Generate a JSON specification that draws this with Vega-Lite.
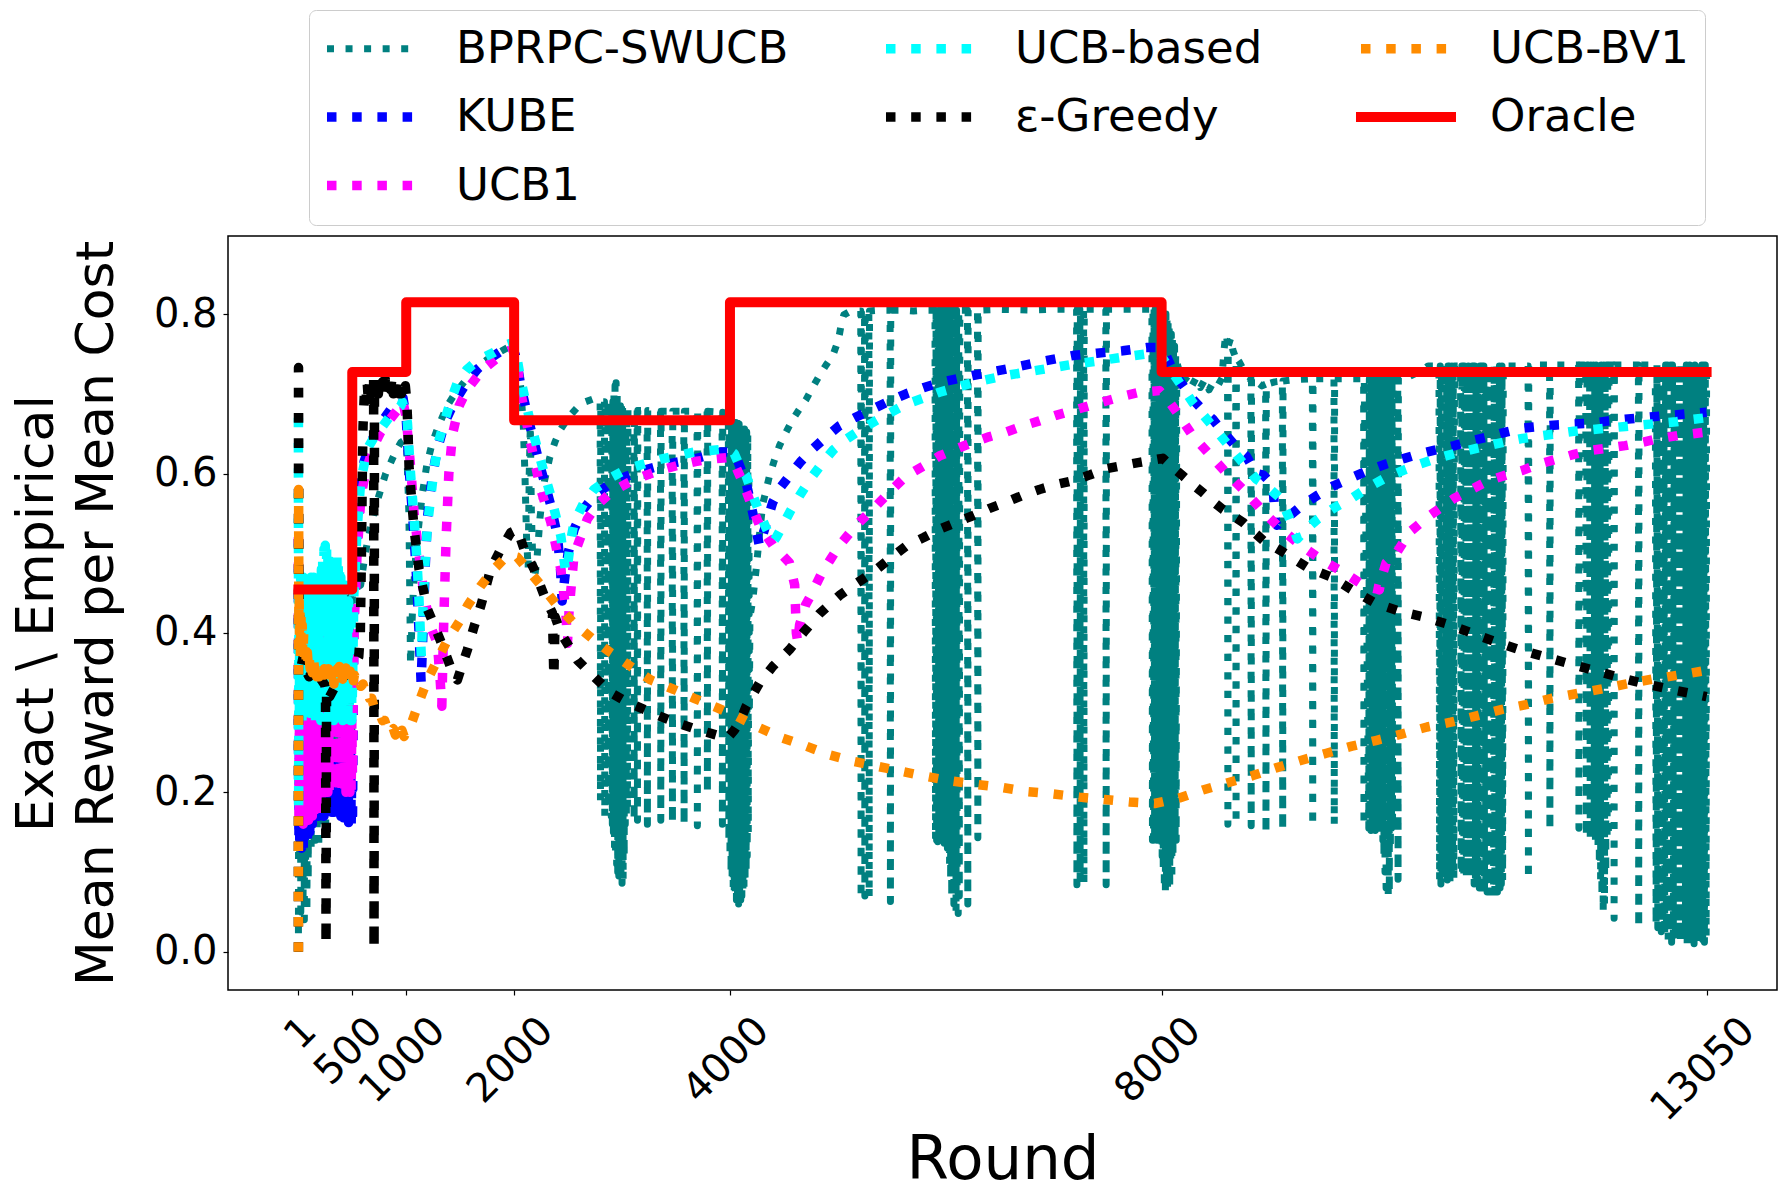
{
  "$schema": "https://vega.github.io/schema/vega-lite/v6.json",
  "width": 1549,
  "height": 754,
  "autosize": {"type": "none"},
  "padding": {"left": 228, "top": 236, "right": 14, "bottom": 210},
  "background": "white",
  "datasets": {
    "bprpc": [
      {"algo":"BPRPC-SWUCB","round":1,"value":0.0},{"algo":"BPRPC-SWUCB","round":4,"value":0.3},{"algo":"BPRPC-SWUCB","round":8,"value":0.46},{"algo":"BPRPC-SWUCB","round":13,"value":0.12},{"algo":"BPRPC-SWUCB","round":18,"value":0.465},{"algo":"BPRPC-SWUCB","round":23,"value":0.05},{"algo":"BPRPC-SWUCB","round":28,"value":0.46},{"algo":"BPRPC-SWUCB","round":33,"value":0.2},{"algo":"BPRPC-SWUCB","round":38,"value":0.465},{"algo":"BPRPC-SWUCB","round":44,"value":0.06},{"algo":"BPRPC-SWUCB","round":50,"value":0.463},{"algo":"BPRPC-SWUCB","round":56,"value":0.04},{"algo":"BPRPC-SWUCB","round":62,"value":0.465},{"algo":"BPRPC-SWUCB","round":68,"value":0.1},{"algo":"BPRPC-SWUCB","round":74,"value":0.466},{"algo":"BPRPC-SWUCB","round":80,"value":0.05},{"algo":"BPRPC-SWUCB","round":86,"value":0.465},{"algo":"BPRPC-SWUCB","round":92,"value":0.09},{"algo":"BPRPC-SWUCB","round":98,"value":0.468},{"algo":"BPRPC-SWUCB","round":105,"value":0.14},{"algo":"BPRPC-SWUCB","round":112,"value":0.467},{"algo":"BPRPC-SWUCB","round":119,"value":0.13},{"algo":"BPRPC-SWUCB","round":126,"value":0.466},{"algo":"BPRPC-SWUCB","round":133,"value":0.16},{"algo":"BPRPC-SWUCB","round":140,"value":0.467},{"algo":"BPRPC-SWUCB","round":147,"value":0.13},{"algo":"BPRPC-SWUCB","round":154,"value":0.466},{"algo":"BPRPC-SWUCB","round":161,"value":0.14},{"algo":"BPRPC-SWUCB","round":168,"value":0.465},{"algo":"BPRPC-SWUCB","round":175,"value":0.15},{"algo":"BPRPC-SWUCB","round":182,"value":0.466},{"algo":"BPRPC-SWUCB","round":190,"value":0.13},{"algo":"BPRPC-SWUCB","round":198,"value":0.465},{"algo":"BPRPC-SWUCB","round":206,"value":0.17},{"algo":"BPRPC-SWUCB","round":214,"value":0.466},{"algo":"BPRPC-SWUCB","round":222,"value":0.16},{"algo":"BPRPC-SWUCB","round":230,"value":0.465},{"algo":"BPRPC-SWUCB","round":238,"value":0.17},{"algo":"BPRPC-SWUCB","round":246,"value":0.466},{"algo":"BPRPC-SWUCB","round":254,"value":0.16},{"algo":"BPRPC-SWUCB","round":262,"value":0.465},{"algo":"BPRPC-SWUCB","round":270,"value":0.18},{"algo":"BPRPC-SWUCB","round":278,"value":0.466},{"algo":"BPRPC-SWUCB","round":286,"value":0.17},{"algo":"BPRPC-SWUCB","round":294,"value":0.465},{"algo":"BPRPC-SWUCB","round":302,"value":0.18},{"algo":"BPRPC-SWUCB","round":310,"value":0.466},{"algo":"BPRPC-SWUCB","round":318,"value":0.175},{"algo":"BPRPC-SWUCB","round":326,"value":0.465},{"algo":"BPRPC-SWUCB","round":334,"value":0.18},{"algo":"BPRPC-SWUCB","round":342,"value":0.464},{"algo":"BPRPC-SWUCB","round":350,"value":0.18},{"algo":"BPRPC-SWUCB","round":358,"value":0.465},{"algo":"BPRPC-SWUCB","round":366,"value":0.18},{"algo":"BPRPC-SWUCB","round":374,"value":0.464},{"algo":"BPRPC-SWUCB","round":382,"value":0.19},{"algo":"BPRPC-SWUCB","round":390,"value":0.463},{"algo":"BPRPC-SWUCB","round":398,"value":0.18},{"algo":"BPRPC-SWUCB","round":406,"value":0.462},{"algo":"BPRPC-SWUCB","round":414,"value":0.2},{"algo":"BPRPC-SWUCB","round":422,"value":0.462},{"algo":"BPRPC-SWUCB","round":430,"value":0.19},{"algo":"BPRPC-SWUCB","round":438,"value":0.46},{"algo":"BPRPC-SWUCB","round":446,"value":0.2},{"algo":"BPRPC-SWUCB","round":454,"value":0.46},{"algo":"BPRPC-SWUCB","round":462,"value":0.21},{"algo":"BPRPC-SWUCB","round":470,"value":0.458},{"algo":"BPRPC-SWUCB","round":478,"value":0.2},{"algo":"BPRPC-SWUCB","round":486,"value":0.456},{"algo":"BPRPC-SWUCB","round":494,"value":0.22},{"algo":"BPRPC-SWUCB","round":502,"value":0.45},
      {"algo":"BPRPC-SWUCB","round":520,"value":0.455},{"algo":"BPRPC-SWUCB","round":578,"value":0.46},{"algo":"BPRPC-SWUCB","round":620,"value":0.5},{"algo":"BPRPC-SWUCB","round":671,"value":0.534},{"algo":"BPRPC-SWUCB","round":720,"value":0.56},{"algo":"BPRPC-SWUCB","round":764,"value":0.58},{"algo":"BPRPC-SWUCB","round":810,"value":0.6},{"algo":"BPRPC-SWUCB","round":857,"value":0.614},{"algo":"BPRPC-SWUCB","round":900,"value":0.627},{"algo":"BPRPC-SWUCB","round":950,"value":0.639},{"algo":"BPRPC-SWUCB","round":985,"value":0.642},{"algo":"BPRPC-SWUCB","round":1005,"value":0.63},{"algo":"BPRPC-SWUCB","round":1025,"value":0.55},{"algo":"BPRPC-SWUCB","round":1040,"value":0.36},{"algo":"BPRPC-SWUCB","round":1050,"value":0.4},{"algo":"BPRPC-SWUCB","round":1065,"value":0.45},{"algo":"BPRPC-SWUCB","round":1090,"value":0.5},{"algo":"BPRPC-SWUCB","round":1120,"value":0.54},{"algo":"BPRPC-SWUCB","round":1150,"value":0.575},{"algo":"BPRPC-SWUCB","round":1190,"value":0.61},{"algo":"BPRPC-SWUCB","round":1240,"value":0.638},{"algo":"BPRPC-SWUCB","round":1300,"value":0.66},{"algo":"BPRPC-SWUCB","round":1380,"value":0.685},{"algo":"BPRPC-SWUCB","round":1460,"value":0.702},{"algo":"BPRPC-SWUCB","round":1550,"value":0.717},{"algo":"BPRPC-SWUCB","round":1650,"value":0.732},{"algo":"BPRPC-SWUCB","round":1750,"value":0.743},{"algo":"BPRPC-SWUCB","round":1850,"value":0.751},{"algo":"BPRPC-SWUCB","round":1940,"value":0.758},{"algo":"BPRPC-SWUCB","round":1990,"value":0.762},
      {"algo":"BPRPC-SWUCB","round":2030,"value":0.74},{"algo":"BPRPC-SWUCB","round":2060,"value":0.71},{"algo":"BPRPC-SWUCB","round":2085,"value":0.66},{"algo":"BPRPC-SWUCB","round":2100,"value":0.6},{"algo":"BPRPC-SWUCB","round":2115,"value":0.52},{"algo":"BPRPC-SWUCB","round":2130,"value":0.48},{"algo":"BPRPC-SWUCB","round":2140,"value":0.6},{"algo":"BPRPC-SWUCB","round":2150,"value":0.66},{"algo":"BPRPC-SWUCB","round":2160,"value":0.55},{"algo":"BPRPC-SWUCB","round":2175,"value":0.48},{"algo":"BPRPC-SWUCB","round":2190,"value":0.47},{"algo":"BPRPC-SWUCB","round":2210,"value":0.49},{"algo":"BPRPC-SWUCB","round":2240,"value":0.545},{"algo":"BPRPC-SWUCB","round":2280,"value":0.59},{"algo":"BPRPC-SWUCB","round":2330,"value":0.62},{"algo":"BPRPC-SWUCB","round":2380,"value":0.64},{"algo":"BPRPC-SWUCB","round":2430,"value":0.655},{"algo":"BPRPC-SWUCB","round":2500,"value":0.67},{"algo":"BPRPC-SWUCB","round":2580,"value":0.682},{"algo":"BPRPC-SWUCB","round":2660,"value":0.69},{"algo":"BPRPC-SWUCB","round":2740,"value":0.694},{"algo":"BPRPC-SWUCB","round":2790,"value":0.692},
      {"algo":"BPRPC-SWUCB","round":2797,"value":0.692},{"algo":"BPRPC-SWUCB","round":2800,"value":0.19},{"algo":"BPRPC-SWUCB","round":2803,"value":0.69},{"algo":"BPRPC-SWUCB","round":2837,"value":0.69},{"algo":"BPRPC-SWUCB","round":2840,"value":0.17},{"algo":"BPRPC-SWUCB","round":2843,"value":0.69},{"algo":"BPRPC-SWUCB","round":2867,"value":0.69},{"algo":"BPRPC-SWUCB","round":2870,"value":0.18},{"algo":"BPRPC-SWUCB","round":2873,"value":0.69},{"algo":"BPRPC-SWUCB","round":2895,"value":0.69},{"algo":"BPRPC-SWUCB","round":2900,"value":0.17},{"algo":"BPRPC-SWUCB","round":2905,"value":0.69},{"algo":"BPRPC-SWUCB","round":2910,"value":0.16},{"algo":"BPRPC-SWUCB","round":2915,"value":0.69},{"algo":"BPRPC-SWUCB","round":2920,"value":0.15},{"algo":"BPRPC-SWUCB","round":2925,"value":0.7},{"algo":"BPRPC-SWUCB","round":2930,"value":0.13},{"algo":"BPRPC-SWUCB","round":2935,"value":0.71},{"algo":"BPRPC-SWUCB","round":2940,"value":0.12},{"algo":"BPRPC-SWUCB","round":2945,"value":0.714},{"algo":"BPRPC-SWUCB","round":2950,"value":0.11},{"algo":"BPRPC-SWUCB","round":2955,"value":0.7},{"algo":"BPRPC-SWUCB","round":2960,"value":0.1},{"algo":"BPRPC-SWUCB","round":2965,"value":0.69},{"algo":"BPRPC-SWUCB","round":2970,"value":0.095},{"algo":"BPRPC-SWUCB","round":2975,"value":0.69},{"algo":"BPRPC-SWUCB","round":2980,"value":0.09},{"algo":"BPRPC-SWUCB","round":2985,"value":0.685},{"algo":"BPRPC-SWUCB","round":2990,"value":0.088},{"algo":"BPRPC-SWUCB","round":2995,"value":0.685},{"algo":"BPRPC-SWUCB","round":3000,"value":0.086},{"algo":"BPRPC-SWUCB","round":3005,"value":0.685},{"algo":"BPRPC-SWUCB","round":3010,"value":0.09},{"algo":"BPRPC-SWUCB","round":3015,"value":0.68},{"algo":"BPRPC-SWUCB","round":3020,"value":0.12},{"algo":"BPRPC-SWUCB","round":3025,"value":0.68},{"algo":"BPRPC-SWUCB","round":3030,"value":0.16},{"algo":"BPRPC-SWUCB","round":3035,"value":0.68},{"algo":"BPRPC-SWUCB","round":3040,"value":0.17},{"algo":"BPRPC-SWUCB","round":3045,"value":0.68},{"algo":"BPRPC-SWUCB","round":3050,"value":0.18},{"algo":"BPRPC-SWUCB","round":3055,"value":0.68},
      {"algo":"BPRPC-SWUCB","round":3109,"value":0.679},{"algo":"BPRPC-SWUCB","round":3112,"value":0.165},{"algo":"BPRPC-SWUCB","round":3115,"value":0.679},{"algo":"BPRPC-SWUCB","round":3140,"value":0.679},{"algo":"BPRPC-SWUCB","round":3143,"value":0.165},{"algo":"BPRPC-SWUCB","round":3146,"value":0.679},{"algo":"BPRPC-SWUCB","round":3232,"value":0.679},{"algo":"BPRPC-SWUCB","round":3235,"value":0.16},{"algo":"BPRPC-SWUCB","round":3238,"value":0.679},{"algo":"BPRPC-SWUCB","round":3356,"value":0.678},{"algo":"BPRPC-SWUCB","round":3359,"value":0.165},{"algo":"BPRPC-SWUCB","round":3362,"value":0.678},{"algo":"BPRPC-SWUCB","round":3464,"value":0.678},{"algo":"BPRPC-SWUCB","round":3467,"value":0.162},{"algo":"BPRPC-SWUCB","round":3470,"value":0.678},{"algo":"BPRPC-SWUCB","round":3572,"value":0.678},{"algo":"BPRPC-SWUCB","round":3575,"value":0.16},{"algo":"BPRPC-SWUCB","round":3578,"value":0.678},{"algo":"BPRPC-SWUCB","round":3695,"value":0.678},{"algo":"BPRPC-SWUCB","round":3698,"value":0.158},{"algo":"BPRPC-SWUCB","round":3701,"value":0.678},{"algo":"BPRPC-SWUCB","round":3788,"value":0.678},{"algo":"BPRPC-SWUCB","round":3791,"value":0.2},{"algo":"BPRPC-SWUCB","round":3794,"value":0.678},{"algo":"BPRPC-SWUCB","round":3927,"value":0.677},{"algo":"BPRPC-SWUCB","round":3930,"value":0.16},{"algo":"BPRPC-SWUCB","round":3933,"value":0.677},
      {"algo":"BPRPC-SWUCB","round":3985,"value":0.672},{"algo":"BPRPC-SWUCB","round":3990,"value":0.14},{"algo":"BPRPC-SWUCB","round":3995,"value":0.668},{"algo":"BPRPC-SWUCB","round":4000,"value":0.12},{"algo":"BPRPC-SWUCB","round":4005,"value":0.666},{"algo":"BPRPC-SWUCB","round":4010,"value":0.1},{"algo":"BPRPC-SWUCB","round":4015,"value":0.666},{"algo":"BPRPC-SWUCB","round":4020,"value":0.09},{"algo":"BPRPC-SWUCB","round":4025,"value":0.665},{"algo":"BPRPC-SWUCB","round":4030,"value":0.08},{"algo":"BPRPC-SWUCB","round":4035,"value":0.665},{"algo":"BPRPC-SWUCB","round":4040,"value":0.075},{"algo":"BPRPC-SWUCB","round":4045,"value":0.664},{"algo":"BPRPC-SWUCB","round":4050,"value":0.07},{"algo":"BPRPC-SWUCB","round":4055,"value":0.664},{"algo":"BPRPC-SWUCB","round":4060,"value":0.065},{"algo":"BPRPC-SWUCB","round":4065,"value":0.663},{"algo":"BPRPC-SWUCB","round":4070,"value":0.062},{"algo":"BPRPC-SWUCB","round":4075,"value":0.663},{"algo":"BPRPC-SWUCB","round":4080,"value":0.06},{"algo":"BPRPC-SWUCB","round":4085,"value":0.662},{"algo":"BPRPC-SWUCB","round":4090,"value":0.062},{"algo":"BPRPC-SWUCB","round":4095,"value":0.66},{"algo":"BPRPC-SWUCB","round":4100,"value":0.065},{"algo":"BPRPC-SWUCB","round":4105,"value":0.66},{"algo":"BPRPC-SWUCB","round":4110,"value":0.07},{"algo":"BPRPC-SWUCB","round":4115,"value":0.66},{"algo":"BPRPC-SWUCB","round":4120,"value":0.075},{"algo":"BPRPC-SWUCB","round":4125,"value":0.658},{"algo":"BPRPC-SWUCB","round":4130,"value":0.08},{"algo":"BPRPC-SWUCB","round":4135,"value":0.656},{"algo":"BPRPC-SWUCB","round":4140,"value":0.09},{"algo":"BPRPC-SWUCB","round":4145,"value":0.654},{"algo":"BPRPC-SWUCB","round":4150,"value":0.1},{"algo":"BPRPC-SWUCB","round":4155,"value":0.652},{"algo":"BPRPC-SWUCB","round":4160,"value":0.12},{"algo":"BPRPC-SWUCB","round":4165,"value":0.65},{"algo":"BPRPC-SWUCB","round":4170,"value":0.15},{"algo":"BPRPC-SWUCB","round":4175,"value":0.6},{"algo":"BPRPC-SWUCB","round":4180,"value":0.3},{"algo":"BPRPC-SWUCB","round":4185,"value":0.42},
      {"algo":"BPRPC-SWUCB","round":4210,"value":0.44},{"algo":"BPRPC-SWUCB","round":4243,"value":0.48},{"algo":"BPRPC-SWUCB","round":4275,"value":0.525},{"algo":"BPRPC-SWUCB","round":4304,"value":0.562},{"algo":"BPRPC-SWUCB","round":4340,"value":0.582},{"algo":"BPRPC-SWUCB","round":4366,"value":0.597},{"algo":"BPRPC-SWUCB","round":4410,"value":0.616},{"algo":"BPRPC-SWUCB","round":4459,"value":0.635},{"algo":"BPRPC-SWUCB","round":4520,"value":0.652},{"algo":"BPRPC-SWUCB","round":4582,"value":0.668},{"algo":"BPRPC-SWUCB","round":4645,"value":0.681},{"algo":"BPRPC-SWUCB","round":4706,"value":0.693},{"algo":"BPRPC-SWUCB","round":4770,"value":0.709},{"algo":"BPRPC-SWUCB","round":4829,"value":0.723},{"algo":"BPRPC-SWUCB","round":4890,"value":0.736},{"algo":"BPRPC-SWUCB","round":4953,"value":0.748},{"algo":"BPRPC-SWUCB","round":4990,"value":0.762},{"algo":"BPRPC-SWUCB","round":5015,"value":0.775},{"algo":"BPRPC-SWUCB","round":5035,"value":0.79},{"algo":"BPRPC-SWUCB","round":5055,"value":0.799},{"algo":"BPRPC-SWUCB","round":5107,"value":0.803},{"algo":"BPRPC-SWUCB","round":5150,"value":0.804},
      {"algo":"BPRPC-SWUCB","round":5212,"value":0.804},{"algo":"BPRPC-SWUCB","round":5215,"value":0.067},{"algo":"BPRPC-SWUCB","round":5218,"value":0.804},{"algo":"BPRPC-SWUCB","round":5247,"value":0.804},{"algo":"BPRPC-SWUCB","round":5250,"value":0.07},{"algo":"BPRPC-SWUCB","round":5253,"value":0.804},{"algo":"BPRPC-SWUCB","round":5287,"value":0.804},{"algo":"BPRPC-SWUCB","round":5290,"value":0.068},{"algo":"BPRPC-SWUCB","round":5293,"value":0.804},{"algo":"BPRPC-SWUCB","round":5400,"value":0.805},{"algo":"BPRPC-SWUCB","round":5484,"value":0.805},{"algo":"BPRPC-SWUCB","round":5487,"value":0.063},{"algo":"BPRPC-SWUCB","round":5490,"value":0.805},{"algo":"BPRPC-SWUCB","round":5600,"value":0.805},{"algo":"BPRPC-SWUCB","round":5700,"value":0.804},{"algo":"BPRPC-SWUCB","round":5800,"value":0.805},{"algo":"BPRPC-SWUCB","round":5900,"value":0.805},
      {"algo":"BPRPC-SWUCB","round":5905,"value":0.14},{"algo":"BPRPC-SWUCB","round":5910,"value":0.805},{"algo":"BPRPC-SWUCB","round":5915,"value":0.14},{"algo":"BPRPC-SWUCB","round":5920,"value":0.805},{"algo":"BPRPC-SWUCB","round":5925,"value":0.138},{"algo":"BPRPC-SWUCB","round":5930,"value":0.805},{"algo":"BPRPC-SWUCB","round":5935,"value":0.14},{"algo":"BPRPC-SWUCB","round":5940,"value":0.805},{"algo":"BPRPC-SWUCB","round":5945,"value":0.135},{"algo":"BPRPC-SWUCB","round":5950,"value":0.805},{"algo":"BPRPC-SWUCB","round":5955,"value":0.14},{"algo":"BPRPC-SWUCB","round":5960,"value":0.805},{"algo":"BPRPC-SWUCB","round":5965,"value":0.138},{"algo":"BPRPC-SWUCB","round":5970,"value":0.805},{"algo":"BPRPC-SWUCB","round":5975,"value":0.14},{"algo":"BPRPC-SWUCB","round":5980,"value":0.805},{"algo":"BPRPC-SWUCB","round":5985,"value":0.136},{"algo":"BPRPC-SWUCB","round":5990,"value":0.805},{"algo":"BPRPC-SWUCB","round":5995,"value":0.14},{"algo":"BPRPC-SWUCB","round":6000,"value":0.805},{"algo":"BPRPC-SWUCB","round":6005,"value":0.138},{"algo":"BPRPC-SWUCB","round":6010,"value":0.805},{"algo":"BPRPC-SWUCB","round":6015,"value":0.13},{"algo":"BPRPC-SWUCB","round":6020,"value":0.805},{"algo":"BPRPC-SWUCB","round":6025,"value":0.12},{"algo":"BPRPC-SWUCB","round":6030,"value":0.805},{"algo":"BPRPC-SWUCB","round":6035,"value":0.11},{"algo":"BPRPC-SWUCB","round":6040,"value":0.805},{"algo":"BPRPC-SWUCB","round":6045,"value":0.09},{"algo":"BPRPC-SWUCB","round":6050,"value":0.805},{"algo":"BPRPC-SWUCB","round":6055,"value":0.07},{"algo":"BPRPC-SWUCB","round":6060,"value":0.805},{"algo":"BPRPC-SWUCB","round":6065,"value":0.1},{"algo":"BPRPC-SWUCB","round":6070,"value":0.805},{"algo":"BPRPC-SWUCB","round":6075,"value":0.06},{"algo":"BPRPC-SWUCB","round":6080,"value":0.805},{"algo":"BPRPC-SWUCB","round":6085,"value":0.09},{"algo":"BPRPC-SWUCB","round":6090,"value":0.805},{"algo":"BPRPC-SWUCB","round":6095,"value":0.05},{"algo":"BPRPC-SWUCB","round":6100,"value":0.805},{"algo":"BPRPC-SWUCB","round":6105,"value":0.08},{"algo":"BPRPC-SWUCB","round":6110,"value":0.805},{"algo":"BPRPC-SWUCB","round":6115,"value":0.048},{"algo":"BPRPC-SWUCB","round":6120,"value":0.805},{"algo":"BPRPC-SWUCB","round":6125,"value":0.07},{"algo":"BPRPC-SWUCB","round":6130,"value":0.805},
      {"algo":"BPRPC-SWUCB","round":6201,"value":0.805},{"algo":"BPRPC-SWUCB","round":6204,"value":0.06},{"algo":"BPRPC-SWUCB","round":6207,"value":0.805},{"algo":"BPRPC-SWUCB","round":6294,"value":0.805},{"algo":"BPRPC-SWUCB","round":6297,"value":0.143},{"algo":"BPRPC-SWUCB","round":6300,"value":0.805},{"algo":"BPRPC-SWUCB","round":6500,"value":0.806},{"algo":"BPRPC-SWUCB","round":6800,"value":0.805},{"algo":"BPRPC-SWUCB","round":7000,"value":0.806},{"algo":"BPRPC-SWUCB","round":7212,"value":0.806},{"algo":"BPRPC-SWUCB","round":7215,"value":0.084},{"algo":"BPRPC-SWUCB","round":7218,"value":0.806},{"algo":"BPRPC-SWUCB","round":7242,"value":0.806},{"algo":"BPRPC-SWUCB","round":7245,"value":0.09},{"algo":"BPRPC-SWUCB","round":7248,"value":0.806},{"algo":"BPRPC-SWUCB","round":7277,"value":0.806},{"algo":"BPRPC-SWUCB","round":7280,"value":0.085},{"algo":"BPRPC-SWUCB","round":7283,"value":0.806},{"algo":"BPRPC-SWUCB","round":7483,"value":0.806},{"algo":"BPRPC-SWUCB","round":7486,"value":0.084},{"algo":"BPRPC-SWUCB","round":7489,"value":0.806},{"algo":"BPRPC-SWUCB","round":7700,"value":0.806},{"algo":"BPRPC-SWUCB","round":7910,"value":0.806},
      {"algo":"BPRPC-SWUCB","round":7915,"value":0.14},{"algo":"BPRPC-SWUCB","round":7920,"value":0.806},{"algo":"BPRPC-SWUCB","round":7925,"value":0.14},{"algo":"BPRPC-SWUCB","round":7930,"value":0.806},{"algo":"BPRPC-SWUCB","round":7935,"value":0.14},{"algo":"BPRPC-SWUCB","round":7940,"value":0.806},{"algo":"BPRPC-SWUCB","round":7945,"value":0.14},{"algo":"BPRPC-SWUCB","round":7950,"value":0.806},{"algo":"BPRPC-SWUCB","round":7955,"value":0.14},{"algo":"BPRPC-SWUCB","round":7960,"value":0.806},{"algo":"BPRPC-SWUCB","round":7965,"value":0.14},{"algo":"BPRPC-SWUCB","round":7970,"value":0.806},{"algo":"BPRPC-SWUCB","round":7975,"value":0.14},{"algo":"BPRPC-SWUCB","round":7980,"value":0.806},{"algo":"BPRPC-SWUCB","round":7985,"value":0.14},{"algo":"BPRPC-SWUCB","round":7990,"value":0.806},{"algo":"BPRPC-SWUCB","round":7995,"value":0.14},{"algo":"BPRPC-SWUCB","round":8000,"value":0.805},{"algo":"BPRPC-SWUCB","round":8005,"value":0.12},{"algo":"BPRPC-SWUCB","round":8010,"value":0.805},{"algo":"BPRPC-SWUCB","round":8015,"value":0.1},{"algo":"BPRPC-SWUCB","round":8020,"value":0.8},{"algo":"BPRPC-SWUCB","round":8025,"value":0.08},{"algo":"BPRPC-SWUCB","round":8030,"value":0.8},{"algo":"BPRPC-SWUCB","round":8035,"value":0.074},{"algo":"BPRPC-SWUCB","round":8040,"value":0.8},{"algo":"BPRPC-SWUCB","round":8045,"value":0.09},{"algo":"BPRPC-SWUCB","round":8050,"value":0.795},{"algo":"BPRPC-SWUCB","round":8055,"value":0.076},{"algo":"BPRPC-SWUCB","round":8060,"value":0.79},{"algo":"BPRPC-SWUCB","round":8065,"value":0.1},{"algo":"BPRPC-SWUCB","round":8070,"value":0.785},{"algo":"BPRPC-SWUCB","round":8075,"value":0.08},{"algo":"BPRPC-SWUCB","round":8080,"value":0.78},{"algo":"BPRPC-SWUCB","round":8085,"value":0.11},{"algo":"BPRPC-SWUCB","round":8090,"value":0.775},{"algo":"BPRPC-SWUCB","round":8095,"value":0.09},{"algo":"BPRPC-SWUCB","round":8100,"value":0.77},{"algo":"BPRPC-SWUCB","round":8105,"value":0.12},{"algo":"BPRPC-SWUCB","round":8110,"value":0.765},{"algo":"BPRPC-SWUCB","round":8115,"value":0.14},{"algo":"BPRPC-SWUCB","round":8120,"value":0.76},{"algo":"BPRPC-SWUCB","round":8125,"value":0.14},{"algo":"BPRPC-SWUCB","round":8130,"value":0.75},{"algo":"BPRPC-SWUCB","round":8135,"value":0.14},{"algo":"BPRPC-SWUCB","round":8140,"value":0.74},
      {"algo":"BPRPC-SWUCB","round":8170,"value":0.725},{"algo":"BPRPC-SWUCB","round":8200,"value":0.715},{"algo":"BPRPC-SWUCB","round":8240,"value":0.722},{"algo":"BPRPC-SWUCB","round":8280,"value":0.71},{"algo":"BPRPC-SWUCB","round":8320,"value":0.72},{"algo":"BPRPC-SWUCB","round":8360,"value":0.708},{"algo":"BPRPC-SWUCB","round":8400,"value":0.718},{"algo":"BPRPC-SWUCB","round":8440,"value":0.705},{"algo":"BPRPC-SWUCB","round":8480,"value":0.715},{"algo":"BPRPC-SWUCB","round":8520,"value":0.71},{"algo":"BPRPC-SWUCB","round":8560,"value":0.72},{"algo":"BPRPC-SWUCB","round":8575,"value":0.75},{"algo":"BPRPC-SWUCB","round":8590,"value":0.77},{"algo":"BPRPC-SWUCB","round":8600,"value":0.775},{"algo":"BPRPC-SWUCB","round":8611,"value":0.76},{"algo":"BPRPC-SWUCB","round":8614,"value":0.16},{"algo":"BPRPC-SWUCB","round":8617,"value":0.76},{"algo":"BPRPC-SWUCB","round":8640,"value":0.77},{"algo":"BPRPC-SWUCB","round":8660,"value":0.755},{"algo":"BPRPC-SWUCB","round":8687,"value":0.745},{"algo":"BPRPC-SWUCB","round":8690,"value":0.16},{"algo":"BPRPC-SWUCB","round":8693,"value":0.745},{"algo":"BPRPC-SWUCB","round":8720,"value":0.74},{"algo":"BPRPC-SWUCB","round":8760,"value":0.73},{"algo":"BPRPC-SWUCB","round":8800,"value":0.722},{"algo":"BPRPC-SWUCB","round":8827,"value":0.72},{"algo":"BPRPC-SWUCB","round":8830,"value":0.158},{"algo":"BPRPC-SWUCB","round":8833,"value":0.72},
      {"algo":"BPRPC-SWUCB","round":8880,"value":0.715},{"algo":"BPRPC-SWUCB","round":8930,"value":0.71},{"algo":"BPRPC-SWUCB","round":8964,"value":0.712},{"algo":"BPRPC-SWUCB","round":8967,"value":0.149},{"algo":"BPRPC-SWUCB","round":8970,"value":0.712},{"algo":"BPRPC-SWUCB","round":9050,"value":0.715},{"algo":"BPRPC-SWUCB","round":9119,"value":0.716},{"algo":"BPRPC-SWUCB","round":9122,"value":0.153},{"algo":"BPRPC-SWUCB","round":9125,"value":0.716},{"algo":"BPRPC-SWUCB","round":9250,"value":0.718},{"algo":"BPRPC-SWUCB","round":9397,"value":0.719},{"algo":"BPRPC-SWUCB","round":9400,"value":0.158},{"algo":"BPRPC-SWUCB","round":9403,"value":0.719},{"algo":"BPRPC-SWUCB","round":9500,"value":0.719},{"algo":"BPRPC-SWUCB","round":9597,"value":0.719},{"algo":"BPRPC-SWUCB","round":9600,"value":0.16},{"algo":"BPRPC-SWUCB","round":9603,"value":0.719},{"algo":"BPRPC-SWUCB","round":9750,"value":0.719},{"algo":"BPRPC-SWUCB","round":9872,"value":0.719},{"algo":"BPRPC-SWUCB","round":9875,"value":0.158},{"algo":"BPRPC-SWUCB","round":9878,"value":0.719},
      {"algo":"BPRPC-SWUCB","round":9920,"value":0.155},{"algo":"BPRPC-SWUCB","round":9925,"value":0.719},{"algo":"BPRPC-SWUCB","round":9930,"value":0.155},{"algo":"BPRPC-SWUCB","round":9935,"value":0.719},{"algo":"BPRPC-SWUCB","round":9940,"value":0.152},{"algo":"BPRPC-SWUCB","round":9945,"value":0.719},{"algo":"BPRPC-SWUCB","round":9950,"value":0.155},{"algo":"BPRPC-SWUCB","round":9955,"value":0.719},{"algo":"BPRPC-SWUCB","round":9960,"value":0.153},{"algo":"BPRPC-SWUCB","round":9965,"value":0.719},{"algo":"BPRPC-SWUCB","round":9970,"value":0.155},{"algo":"BPRPC-SWUCB","round":9975,"value":0.719},{"algo":"BPRPC-SWUCB","round":9980,"value":0.152},{"algo":"BPRPC-SWUCB","round":9985,"value":0.719},{"algo":"BPRPC-SWUCB","round":9990,"value":0.155},{"algo":"BPRPC-SWUCB","round":9995,"value":0.719},{"algo":"BPRPC-SWUCB","round":10000,"value":0.153},{"algo":"BPRPC-SWUCB","round":10005,"value":0.719},{"algo":"BPRPC-SWUCB","round":10010,"value":0.155},{"algo":"BPRPC-SWUCB","round":10015,"value":0.719},{"algo":"BPRPC-SWUCB","round":10020,"value":0.152},{"algo":"BPRPC-SWUCB","round":10025,"value":0.719},{"algo":"BPRPC-SWUCB","round":10030,"value":0.155},{"algo":"BPRPC-SWUCB","round":10035,"value":0.719},{"algo":"BPRPC-SWUCB","round":10040,"value":0.15},{"algo":"BPRPC-SWUCB","round":10045,"value":0.719},{"algo":"BPRPC-SWUCB","round":10050,"value":0.14},{"algo":"BPRPC-SWUCB","round":10055,"value":0.719},{"algo":"BPRPC-SWUCB","round":10060,"value":0.12},{"algo":"BPRPC-SWUCB","round":10065,"value":0.719},{"algo":"BPRPC-SWUCB","round":10070,"value":0.1},{"algo":"BPRPC-SWUCB","round":10075,"value":0.719},{"algo":"BPRPC-SWUCB","round":10080,"value":0.08},{"algo":"BPRPC-SWUCB","round":10085,"value":0.72},{"algo":"BPRPC-SWUCB","round":10090,"value":0.07},{"algo":"BPRPC-SWUCB","round":10095,"value":0.72},{"algo":"BPRPC-SWUCB","round":10100,"value":0.066},{"algo":"BPRPC-SWUCB","round":10105,"value":0.72},{"algo":"BPRPC-SWUCB","round":10110,"value":0.075},{"algo":"BPRPC-SWUCB","round":10115,"value":0.72},{"algo":"BPRPC-SWUCB","round":10120,"value":0.13},{"algo":"BPRPC-SWUCB","round":10125,"value":0.72},{"algo":"BPRPC-SWUCB","round":10130,"value":0.155},{"algo":"BPRPC-SWUCB","round":10135,"value":0.72},{"algo":"BPRPC-SWUCB","round":10140,"value":0.155},{"algo":"BPRPC-SWUCB","round":10145,"value":0.72},
      {"algo":"BPRPC-SWUCB","round":10188,"value":0.72},{"algo":"BPRPC-SWUCB","round":10191,"value":0.091},{"algo":"BPRPC-SWUCB","round":10194,"value":0.72},{"algo":"BPRPC-SWUCB","round":10300,"value":0.722},{"algo":"BPRPC-SWUCB","round":10420,"value":0.73},{"algo":"BPRPC-SWUCB","round":10470,"value":0.735},{"algo":"BPRPC-SWUCB","round":10540,"value":0.735},
      {"algo":"BPRPC-SWUCB","round":10570,"value":0.735},{"algo":"BPRPC-SWUCB","round":10576,"value":0.09},{"algo":"BPRPC-SWUCB","round":10582,"value":0.735},{"algo":"BPRPC-SWUCB","round":10588,"value":0.085},{"algo":"BPRPC-SWUCB","round":10594,"value":0.735},{"algo":"BPRPC-SWUCB","round":10600,"value":0.095},{"algo":"BPRPC-SWUCB","round":10606,"value":0.735},{"algo":"BPRPC-SWUCB","round":10612,"value":0.09},{"algo":"BPRPC-SWUCB","round":10618,"value":0.735},{"algo":"BPRPC-SWUCB","round":10624,"value":0.1},{"algo":"BPRPC-SWUCB","round":10630,"value":0.735},{"algo":"BPRPC-SWUCB","round":10636,"value":0.088},{"algo":"BPRPC-SWUCB","round":10642,"value":0.735},{"algo":"BPRPC-SWUCB","round":10648,"value":0.09},{"algo":"BPRPC-SWUCB","round":10654,"value":0.735},{"algo":"BPRPC-SWUCB","round":10660,"value":0.095},{"algo":"BPRPC-SWUCB","round":10666,"value":0.735},{"algo":"BPRPC-SWUCB","round":10672,"value":0.086},{"algo":"BPRPC-SWUCB","round":10678,"value":0.735},{"algo":"BPRPC-SWUCB","round":10684,"value":0.09},{"algo":"BPRPC-SWUCB","round":10690,"value":0.735},{"algo":"BPRPC-SWUCB","round":10696,"value":0.1},{"algo":"BPRPC-SWUCB","round":10702,"value":0.735},{"algo":"BPRPC-SWUCB","round":10708,"value":0.09},{"algo":"BPRPC-SWUCB","round":10714,"value":0.735},
      {"algo":"BPRPC-SWUCB","round":10770,"value":0.735},{"algo":"BPRPC-SWUCB","round":10776,"value":0.1},{"algo":"BPRPC-SWUCB","round":10782,"value":0.735},{"algo":"BPRPC-SWUCB","round":10788,"value":0.095},{"algo":"BPRPC-SWUCB","round":10794,"value":0.735},{"algo":"BPRPC-SWUCB","round":10800,"value":0.092},{"algo":"BPRPC-SWUCB","round":10806,"value":0.735},{"algo":"BPRPC-SWUCB","round":10812,"value":0.1},{"algo":"BPRPC-SWUCB","round":10818,"value":0.735},{"algo":"BPRPC-SWUCB","round":10824,"value":0.095},{"algo":"BPRPC-SWUCB","round":10830,"value":0.735},{"algo":"BPRPC-SWUCB","round":10836,"value":0.09},{"algo":"BPRPC-SWUCB","round":10842,"value":0.735},{"algo":"BPRPC-SWUCB","round":10848,"value":0.1},{"algo":"BPRPC-SWUCB","round":10854,"value":0.735},{"algo":"BPRPC-SWUCB","round":10860,"value":0.095},{"algo":"BPRPC-SWUCB","round":10866,"value":0.735},{"algo":"BPRPC-SWUCB","round":10872,"value":0.09},{"algo":"BPRPC-SWUCB","round":10878,"value":0.735},{"algo":"BPRPC-SWUCB","round":10884,"value":0.095},{"algo":"BPRPC-SWUCB","round":10890,"value":0.735},{"algo":"BPRPC-SWUCB","round":10896,"value":0.085},{"algo":"BPRPC-SWUCB","round":10902,"value":0.735},{"algo":"BPRPC-SWUCB","round":10908,"value":0.09},{"algo":"BPRPC-SWUCB","round":10914,"value":0.735},{"algo":"BPRPC-SWUCB","round":10920,"value":0.085},{"algo":"BPRPC-SWUCB","round":10926,"value":0.735},{"algo":"BPRPC-SWUCB","round":10932,"value":0.09},{"algo":"BPRPC-SWUCB","round":10938,"value":0.735},{"algo":"BPRPC-SWUCB","round":10944,"value":0.08},{"algo":"BPRPC-SWUCB","round":10950,"value":0.735},{"algo":"BPRPC-SWUCB","round":10956,"value":0.085},{"algo":"BPRPC-SWUCB","round":10962,"value":0.735},{"algo":"BPRPC-SWUCB","round":10968,"value":0.08},{"algo":"BPRPC-SWUCB","round":10974,"value":0.735},{"algo":"BPRPC-SWUCB","round":10980,"value":0.085},{"algo":"BPRPC-SWUCB","round":10986,"value":0.735},{"algo":"BPRPC-SWUCB","round":10992,"value":0.08},{"algo":"BPRPC-SWUCB","round":10998,"value":0.735},{"algo":"BPRPC-SWUCB","round":11004,"value":0.08},{"algo":"BPRPC-SWUCB","round":11010,"value":0.735},{"algo":"BPRPC-SWUCB","round":11016,"value":0.075},{"algo":"BPRPC-SWUCB","round":11022,"value":0.735},{"algo":"BPRPC-SWUCB","round":11028,"value":0.08},{"algo":"BPRPC-SWUCB","round":11034,"value":0.735},{"algo":"BPRPC-SWUCB","round":11040,"value":0.075},{"algo":"BPRPC-SWUCB","round":11046,"value":0.735},{"algo":"BPRPC-SWUCB","round":11052,"value":0.08},{"algo":"BPRPC-SWUCB","round":11058,"value":0.735},{"algo":"BPRPC-SWUCB","round":11064,"value":0.075},{"algo":"BPRPC-SWUCB","round":11070,"value":0.735},{"algo":"BPRPC-SWUCB","round":11076,"value":0.078},{"algo":"BPRPC-SWUCB","round":11082,"value":0.735},{"algo":"BPRPC-SWUCB","round":11088,"value":0.075},{"algo":"BPRPC-SWUCB","round":11094,"value":0.735},{"algo":"BPRPC-SWUCB","round":11100,"value":0.08},{"algo":"BPRPC-SWUCB","round":11106,"value":0.735},{"algo":"BPRPC-SWUCB","round":11112,"value":0.075},{"algo":"BPRPC-SWUCB","round":11118,"value":0.735},{"algo":"BPRPC-SWUCB","round":11124,"value":0.078},{"algo":"BPRPC-SWUCB","round":11130,"value":0.735},{"algo":"BPRPC-SWUCB","round":11136,"value":0.08},{"algo":"BPRPC-SWUCB","round":11142,"value":0.735},{"algo":"BPRPC-SWUCB","round":11148,"value":0.085},{"algo":"BPRPC-SWUCB","round":11154,"value":0.735},{"algo":"BPRPC-SWUCB","round":11160,"value":0.09},{"algo":"BPRPC-SWUCB","round":11166,"value":0.735},
      {"algo":"BPRPC-SWUCB","round":11250,"value":0.735},{"algo":"BPRPC-SWUCB","round":11396,"value":0.735},{"algo":"BPRPC-SWUCB","round":11399,"value":0.091},{"algo":"BPRPC-SWUCB","round":11402,"value":0.735},{"algo":"BPRPC-SWUCB","round":11500,"value":0.736},{"algo":"BPRPC-SWUCB","round":11595,"value":0.736},{"algo":"BPRPC-SWUCB","round":11598,"value":0.153},{"algo":"BPRPC-SWUCB","round":11601,"value":0.736},{"algo":"BPRPC-SWUCB","round":11750,"value":0.736},{"algo":"BPRPC-SWUCB","round":11864,"value":0.736},{"algo":"BPRPC-SWUCB","round":11867,"value":0.155},{"algo":"BPRPC-SWUCB","round":11870,"value":0.736},
      {"algo":"BPRPC-SWUCB","round":11930,"value":0.736},{"algo":"BPRPC-SWUCB","round":11936,"value":0.145},{"algo":"BPRPC-SWUCB","round":11942,"value":0.736},{"algo":"BPRPC-SWUCB","round":11948,"value":0.143},{"algo":"BPRPC-SWUCB","round":11954,"value":0.736},{"algo":"BPRPC-SWUCB","round":11960,"value":0.145},{"algo":"BPRPC-SWUCB","round":11966,"value":0.736},{"algo":"BPRPC-SWUCB","round":11972,"value":0.14},{"algo":"BPRPC-SWUCB","round":11978,"value":0.736},{"algo":"BPRPC-SWUCB","round":11984,"value":0.145},{"algo":"BPRPC-SWUCB","round":11990,"value":0.736},{"algo":"BPRPC-SWUCB","round":11996,"value":0.142},{"algo":"BPRPC-SWUCB","round":12002,"value":0.736},{"algo":"BPRPC-SWUCB","round":12008,"value":0.145},{"algo":"BPRPC-SWUCB","round":12014,"value":0.736},{"algo":"BPRPC-SWUCB","round":12020,"value":0.14},{"algo":"BPRPC-SWUCB","round":12026,"value":0.736},{"algo":"BPRPC-SWUCB","round":12032,"value":0.145},{"algo":"BPRPC-SWUCB","round":12038,"value":0.736},{"algo":"BPRPC-SWUCB","round":12044,"value":0.13},{"algo":"BPRPC-SWUCB","round":12050,"value":0.736},{"algo":"BPRPC-SWUCB","round":12056,"value":0.11},{"algo":"BPRPC-SWUCB","round":12062,"value":0.736},{"algo":"BPRPC-SWUCB","round":12068,"value":0.09},{"algo":"BPRPC-SWUCB","round":12074,"value":0.736},{"algo":"BPRPC-SWUCB","round":12080,"value":0.07},{"algo":"BPRPC-SWUCB","round":12086,"value":0.736},{"algo":"BPRPC-SWUCB","round":12092,"value":0.05},{"algo":"BPRPC-SWUCB","round":12098,"value":0.736},{"algo":"BPRPC-SWUCB","round":12104,"value":0.06},{"algo":"BPRPC-SWUCB","round":12110,"value":0.736},{"algo":"BPRPC-SWUCB","round":12116,"value":0.1},{"algo":"BPRPC-SWUCB","round":12122,"value":0.736},{"algo":"BPRPC-SWUCB","round":12128,"value":0.14},{"algo":"BPRPC-SWUCB","round":12134,"value":0.736},{"algo":"BPRPC-SWUCB","round":12140,"value":0.145},{"algo":"BPRPC-SWUCB","round":12146,"value":0.736},
      {"algo":"BPRPC-SWUCB","round":12190,"value":0.736},{"algo":"BPRPC-SWUCB","round":12193,"value":0.042},{"algo":"BPRPC-SWUCB","round":12196,"value":0.736},{"algo":"BPRPC-SWUCB","round":12300,"value":0.736},{"algo":"BPRPC-SWUCB","round":12418,"value":0.736},{"algo":"BPRPC-SWUCB","round":12421,"value":0.031},{"algo":"BPRPC-SWUCB","round":12424,"value":0.736},{"algo":"BPRPC-SWUCB","round":12500,"value":0.736},{"algo":"BPRPC-SWUCB","round":12575,"value":0.736},
      {"algo":"BPRPC-SWUCB","round":12582,"value":0.035},{"algo":"BPRPC-SWUCB","round":12590,"value":0.736},{"algo":"BPRPC-SWUCB","round":12598,"value":0.03},{"algo":"BPRPC-SWUCB","round":12606,"value":0.736},{"algo":"BPRPC-SWUCB","round":12614,"value":0.04},{"algo":"BPRPC-SWUCB","round":12622,"value":0.736},{"algo":"BPRPC-SWUCB","round":12630,"value":0.025},{"algo":"BPRPC-SWUCB","round":12638,"value":0.736},{"algo":"BPRPC-SWUCB","round":12646,"value":0.035},{"algo":"BPRPC-SWUCB","round":12654,"value":0.736},{"algo":"BPRPC-SWUCB","round":12662,"value":0.02},{"algo":"BPRPC-SWUCB","round":12670,"value":0.736},{"algo":"BPRPC-SWUCB","round":12678,"value":0.03},{"algo":"BPRPC-SWUCB","round":12686,"value":0.736},{"algo":"BPRPC-SWUCB","round":12694,"value":0.015},{"algo":"BPRPC-SWUCB","round":12702,"value":0.736},{"algo":"BPRPC-SWUCB","round":12710,"value":0.025},{"algo":"BPRPC-SWUCB","round":12718,"value":0.736},{"algo":"BPRPC-SWUCB","round":12726,"value":0.012},{"algo":"BPRPC-SWUCB","round":12734,"value":0.736},{"algo":"BPRPC-SWUCB","round":12742,"value":0.02},{"algo":"BPRPC-SWUCB","round":12750,"value":0.736},{"algo":"BPRPC-SWUCB","round":12758,"value":0.03},{"algo":"BPRPC-SWUCB","round":12766,"value":0.736},{"algo":"BPRPC-SWUCB","round":12774,"value":0.015},{"algo":"BPRPC-SWUCB","round":12782,"value":0.736},{"algo":"BPRPC-SWUCB","round":12790,"value":0.025},{"algo":"BPRPC-SWUCB","round":12798,"value":0.736},{"algo":"BPRPC-SWUCB","round":12806,"value":0.01},{"algo":"BPRPC-SWUCB","round":12814,"value":0.736},{"algo":"BPRPC-SWUCB","round":12822,"value":0.02},{"algo":"BPRPC-SWUCB","round":12830,"value":0.736},{"algo":"BPRPC-SWUCB","round":12838,"value":0.012},{"algo":"BPRPC-SWUCB","round":12846,"value":0.736},{"algo":"BPRPC-SWUCB","round":12854,"value":0.02},{"algo":"BPRPC-SWUCB","round":12862,"value":0.736},{"algo":"BPRPC-SWUCB","round":12870,"value":0.01},{"algo":"BPRPC-SWUCB","round":12878,"value":0.736},{"algo":"BPRPC-SWUCB","round":12886,"value":0.018},{"algo":"BPRPC-SWUCB","round":12894,"value":0.736},{"algo":"BPRPC-SWUCB","round":12902,"value":0.008},{"algo":"BPRPC-SWUCB","round":12910,"value":0.736},{"algo":"BPRPC-SWUCB","round":12918,"value":0.015},{"algo":"BPRPC-SWUCB","round":12926,"value":0.736},{"algo":"BPRPC-SWUCB","round":12934,"value":0.01},{"algo":"BPRPC-SWUCB","round":12942,"value":0.736},{"algo":"BPRPC-SWUCB","round":12950,"value":0.02},{"algo":"BPRPC-SWUCB","round":12958,"value":0.736},{"algo":"BPRPC-SWUCB","round":12966,"value":0.012},{"algo":"BPRPC-SWUCB","round":12974,"value":0.736},{"algo":"BPRPC-SWUCB","round":12982,"value":0.018},{"algo":"BPRPC-SWUCB","round":12990,"value":0.736},{"algo":"BPRPC-SWUCB","round":12998,"value":0.01},{"algo":"BPRPC-SWUCB","round":13006,"value":0.736},{"algo":"BPRPC-SWUCB","round":13014,"value":0.015},{"algo":"BPRPC-SWUCB","round":13022,"value":0.736},{"algo":"BPRPC-SWUCB","round":13030,"value":0.012},{"algo":"BPRPC-SWUCB","round":13038,"value":0.736},{"algo":"BPRPC-SWUCB","round":13046,"value":0.02},{"algo":"BPRPC-SWUCB","round":13050,"value":0.736}
    ],
    "kube": [
      {"algo":"KUBE","round":1,"value":0.45},{"algo":"KUBE","round":3,"value":0.2},{"algo":"KUBE","round":6,"value":0.14},{"algo":"KUBE","round":10,"value":0.26},{"algo":"KUBE","round":14,"value":0.13},{"algo":"KUBE","round":18,"value":0.25},{"algo":"KUBE","round":22,"value":0.135},{"algo":"KUBE","round":26,"value":0.26},{"algo":"KUBE","round":30,"value":0.13},{"algo":"KUBE","round":34,"value":0.25},{"algo":"KUBE","round":38,"value":0.14},{"algo":"KUBE","round":42,"value":0.26},{"algo":"KUBE","round":46,"value":0.13},{"algo":"KUBE","round":50,"value":0.25},{"algo":"KUBE","round":55,"value":0.135},{"algo":"KUBE","round":60,"value":0.26},{"algo":"KUBE","round":65,"value":0.14},{"algo":"KUBE","round":70,"value":0.25},{"algo":"KUBE","round":75,"value":0.135},{"algo":"KUBE","round":80,"value":0.26},{"algo":"KUBE","round":85,"value":0.14},{"algo":"KUBE","round":90,"value":0.25},{"algo":"KUBE","round":95,"value":0.15},{"algo":"KUBE","round":100,"value":0.26},{"algo":"KUBE","round":106,"value":0.15},{"algo":"KUBE","round":112,"value":0.25},{"algo":"KUBE","round":118,"value":0.16},{"algo":"KUBE","round":124,"value":0.26},{"algo":"KUBE","round":130,"value":0.16},{"algo":"KUBE","round":136,"value":0.25},{"algo":"KUBE","round":142,"value":0.165},{"algo":"KUBE","round":148,"value":0.26},{"algo":"KUBE","round":154,"value":0.17},{"algo":"KUBE","round":160,"value":0.25},{"algo":"KUBE","round":166,"value":0.17},{"algo":"KUBE","round":172,"value":0.26},{"algo":"KUBE","round":178,"value":0.175},{"algo":"KUBE","round":184,"value":0.25},{"algo":"KUBE","round":190,"value":0.17},{"algo":"KUBE","round":196,"value":0.26},{"algo":"KUBE","round":202,"value":0.175},{"algo":"KUBE","round":208,"value":0.25},{"algo":"KUBE","round":214,"value":0.17},{"algo":"KUBE","round":220,"value":0.26},{"algo":"KUBE","round":226,"value":0.175},{"algo":"KUBE","round":232,"value":0.25},{"algo":"KUBE","round":238,"value":0.17},{"algo":"KUBE","round":244,"value":0.26},{"algo":"KUBE","round":250,"value":0.175},{"algo":"KUBE","round":256,"value":0.25},{"algo":"KUBE","round":262,"value":0.17},{"algo":"KUBE","round":268,"value":0.26},{"algo":"KUBE","round":274,"value":0.18},{"algo":"KUBE","round":280,"value":0.25},{"algo":"KUBE","round":286,"value":0.175},{"algo":"KUBE","round":292,"value":0.26},{"algo":"KUBE","round":298,"value":0.18},{"algo":"KUBE","round":304,"value":0.25},{"algo":"KUBE","round":310,"value":0.175},{"algo":"KUBE","round":316,"value":0.26},{"algo":"KUBE","round":322,"value":0.18},{"algo":"KUBE","round":328,"value":0.25},{"algo":"KUBE","round":334,"value":0.175},{"algo":"KUBE","round":340,"value":0.26},{"algo":"KUBE","round":346,"value":0.18},{"algo":"KUBE","round":352,"value":0.25},{"algo":"KUBE","round":358,"value":0.175},{"algo":"KUBE","round":364,"value":0.26},{"algo":"KUBE","round":370,"value":0.18},{"algo":"KUBE","round":376,"value":0.25},{"algo":"KUBE","round":382,"value":0.175},{"algo":"KUBE","round":388,"value":0.26},{"algo":"KUBE","round":394,"value":0.17},{"algo":"KUBE","round":400,"value":0.25},{"algo":"KUBE","round":406,"value":0.17},{"algo":"KUBE","round":412,"value":0.26},{"algo":"KUBE","round":418,"value":0.168},{"algo":"KUBE","round":424,"value":0.25},{"algo":"KUBE","round":430,"value":0.165},{"algo":"KUBE","round":436,"value":0.26},{"algo":"KUBE","round":442,"value":0.165},{"algo":"KUBE","round":448,"value":0.25},{"algo":"KUBE","round":454,"value":0.163},{"algo":"KUBE","round":460,"value":0.26},{"algo":"KUBE","round":466,"value":0.162},{"algo":"KUBE","round":472,"value":0.25},{"algo":"KUBE","round":478,"value":0.16},{"algo":"KUBE","round":484,"value":0.26},{"algo":"KUBE","round":490,"value":0.16},{"algo":"KUBE","round":496,"value":0.25},{"algo":"KUBE","round":502,"value":0.16},
      {"algo":"KUBE","round":515,"value":0.42},{"algo":"KUBE","round":545,"value":0.52},{"algo":"KUBE","round":580,"value":0.585},{"algo":"KUBE","round":610,"value":0.615},{"algo":"KUBE","round":660,"value":0.635},{"algo":"KUBE","round":733,"value":0.656},{"algo":"KUBE","round":800,"value":0.67},{"algo":"KUBE","round":870,"value":0.683},{"algo":"KUBE","round":950,"value":0.693},{"algo":"KUBE","round":970,"value":0.695},{"algo":"KUBE","round":1000,"value":0.67},{"algo":"KUBE","round":1027,"value":0.606},{"algo":"KUBE","round":1073,"value":0.522},{"algo":"KUBE","round":1100,"value":0.46},{"algo":"KUBE","round":1119,"value":0.4},{"algo":"KUBE","round":1138,"value":0.338},{"algo":"KUBE","round":1155,"value":0.4},{"algo":"KUBE","round":1175,"value":0.48},{"algo":"KUBE","round":1196,"value":0.543},{"algo":"KUBE","round":1240,"value":0.595},{"algo":"KUBE","round":1289,"value":0.631},{"algo":"KUBE","round":1360,"value":0.665},{"algo":"KUBE","round":1444,"value":0.689},{"algo":"KUBE","round":1550,"value":0.712},{"algo":"KUBE","round":1660,"value":0.731},{"algo":"KUBE","round":1780,"value":0.745},{"algo":"KUBE","round":1907,"value":0.756},{"algo":"KUBE","round":1980,"value":0.76},{"algo":"KUBE","round":2020,"value":0.745},{"algo":"KUBE","round":2061,"value":0.71},{"algo":"KUBE","round":2154,"value":0.656},{"algo":"KUBE","round":2247,"value":0.606},{"algo":"KUBE","round":2340,"value":0.56},{"algo":"KUBE","round":2401,"value":0.522},{"algo":"KUBE","round":2430,"value":0.48},{"algo":"KUBE","round":2445,"value":0.44},{"algo":"KUBE","round":2470,"value":0.47},{"algo":"KUBE","round":2500,"value":0.5},{"algo":"KUBE","round":2556,"value":0.53},{"algo":"KUBE","round":2641,"value":0.555},{"algo":"KUBE","round":2741,"value":0.572},{"algo":"KUBE","round":2900,"value":0.588},{"algo":"KUBE","round":3050,"value":0.597},{"algo":"KUBE","round":3200,"value":0.604},{"algo":"KUBE","round":3359,"value":0.61},{"algo":"KUBE","round":3500,"value":0.614},{"algo":"KUBE","round":3668,"value":0.618},{"algo":"KUBE","round":3800,"value":0.623},{"algo":"KUBE","round":3915,"value":0.627},{"algo":"KUBE","round":4007,"value":0.627},{"algo":"KUBE","round":4060,"value":0.62},{"algo":"KUBE","round":4100,"value":0.606},{"algo":"KUBE","round":4150,"value":0.589},{"algo":"KUBE","round":4220,"value":0.545},{"algo":"KUBE","round":4273,"value":0.509},{"algo":"KUBE","round":4320,"value":0.53},{"algo":"KUBE","round":4397,"value":0.564},{"algo":"KUBE","round":4470,"value":0.583},{"algo":"KUBE","round":4551,"value":0.597},{"algo":"KUBE","round":4650,"value":0.614},{"algo":"KUBE","round":4768,"value":0.631},{"algo":"KUBE","round":4900,"value":0.647},{"algo":"KUBE","round":5015,"value":0.66},{"algo":"KUBE","round":5170,"value":0.671},{"algo":"KUBE","round":5324,"value":0.681},{"algo":"KUBE","round":5480,"value":0.691},{"algo":"KUBE","round":5633,"value":0.7},{"algo":"KUBE","round":5800,"value":0.708},{"algo":"KUBE","round":5941,"value":0.714},{"algo":"KUBE","round":6250,"value":0.723},{"algo":"KUBE","round":6559,"value":0.731},{"algo":"KUBE","round":6868,"value":0.74},{"algo":"KUBE","round":7177,"value":0.748},{"algo":"KUBE","round":7400,"value":0.751},{"algo":"KUBE","round":7640,"value":0.754},{"algo":"KUBE","round":7857,"value":0.758},{"algo":"KUBE","round":7980,"value":0.758},{"algo":"KUBE","round":8042,"value":0.748},{"algo":"KUBE","round":8120,"value":0.725},{"algo":"KUBE","round":8200,"value":0.71},{"algo":"KUBE","round":8289,"value":0.693},{"algo":"KUBE","round":8380,"value":0.68},{"algo":"KUBE","round":8474,"value":0.668},{"algo":"KUBE","round":8550,"value":0.655},{"algo":"KUBE","round":8629,"value":0.643},{"algo":"KUBE","round":8700,"value":0.632},{"algo":"KUBE","round":8783,"value":0.622},{"algo":"KUBE","round":8876,"value":0.6},{"algo":"KUBE","round":8942,"value":0.598},{"algo":"KUBE","round":9000,"value":0.59},{"algo":"KUBE","round":9036,"value":0.578},{"algo":"KUBE","round":9052,"value":0.54},{"algo":"KUBE","round":9070,"value":0.535},{"algo":"KUBE","round":9120,"value":0.542},{"algo":"KUBE","round":9195,"value":0.548},{"algo":"KUBE","round":9300,"value":0.56},{"algo":"KUBE","round":9448,"value":0.573},{"algo":"KUBE","round":9600,"value":0.585},{"algo":"KUBE","round":9764,"value":0.595},{"algo":"KUBE","round":9900,"value":0.603},{"algo":"KUBE","round":10080,"value":0.612},{"algo":"KUBE","round":10250,"value":0.619},{"algo":"KUBE","round":10397,"value":0.625},{"algo":"KUBE","round":10550,"value":0.63},{"algo":"KUBE","round":10713,"value":0.635},{"algo":"KUBE","round":10870,"value":0.641},{"algo":"KUBE","round":11029,"value":0.646},{"algo":"KUBE","round":11190,"value":0.652},{"algo":"KUBE","round":11345,"value":0.657},{"algo":"KUBE","round":11500,"value":0.659},{"algo":"KUBE","round":11662,"value":0.661},{"algo":"KUBE","round":11820,"value":0.662},{"algo":"KUBE","round":11978,"value":0.663},{"algo":"KUBE","round":12140,"value":0.666},{"algo":"KUBE","round":12295,"value":0.668},{"algo":"KUBE","round":12450,"value":0.67},{"algo":"KUBE","round":12611,"value":0.672},{"algo":"KUBE","round":12800,"value":0.674},{"algo":"KUBE","round":13050,"value":0.677}
    ],
    "ucb1": [
      {"algo":"UCB1","round":1,"value":0.52},{"algo":"UCB1","round":3,"value":0.25},{"algo":"UCB1","round":6,"value":0.17},{"algo":"UCB1","round":10,"value":0.29},{"algo":"UCB1","round":14,"value":0.16},{"algo":"UCB1","round":18,"value":0.3},{"algo":"UCB1","round":22,"value":0.165},{"algo":"UCB1","round":26,"value":0.29},{"algo":"UCB1","round":30,"value":0.16},{"algo":"UCB1","round":34,"value":0.3},{"algo":"UCB1","round":38,"value":0.17},{"algo":"UCB1","round":42,"value":0.29},{"algo":"UCB1","round":46,"value":0.16},{"algo":"UCB1","round":50,"value":0.3},{"algo":"UCB1","round":55,"value":0.165},{"algo":"UCB1","round":60,"value":0.29},{"algo":"UCB1","round":65,"value":0.16},{"algo":"UCB1","round":70,"value":0.3},{"algo":"UCB1","round":75,"value":0.17},{"algo":"UCB1","round":80,"value":0.29},{"algo":"UCB1","round":85,"value":0.16},{"algo":"UCB1","round":90,"value":0.3},{"algo":"UCB1","round":95,"value":0.165},{"algo":"UCB1","round":100,"value":0.3},{"algo":"UCB1","round":106,"value":0.17},{"algo":"UCB1","round":112,"value":0.3},{"algo":"UCB1","round":118,"value":0.165},{"algo":"UCB1","round":124,"value":0.3},{"algo":"UCB1","round":130,"value":0.17},{"algo":"UCB1","round":136,"value":0.3},{"algo":"UCB1","round":142,"value":0.17},{"algo":"UCB1","round":148,"value":0.3},{"algo":"UCB1","round":154,"value":0.175},{"algo":"UCB1","round":160,"value":0.3},{"algo":"UCB1","round":166,"value":0.17},{"algo":"UCB1","round":172,"value":0.3},{"algo":"UCB1","round":178,"value":0.18},{"algo":"UCB1","round":184,"value":0.3},{"algo":"UCB1","round":190,"value":0.18},{"algo":"UCB1","round":196,"value":0.31},{"algo":"UCB1","round":202,"value":0.18},{"algo":"UCB1","round":208,"value":0.33},{"algo":"UCB1","round":214,"value":0.19},{"algo":"UCB1","round":220,"value":0.4},{"algo":"UCB1","round":226,"value":0.19},{"algo":"UCB1","round":232,"value":0.46},{"algo":"UCB1","round":238,"value":0.2},{"algo":"UCB1","round":244,"value":0.48},{"algo":"UCB1","round":250,"value":0.2},{"algo":"UCB1","round":256,"value":0.47},{"algo":"UCB1","round":262,"value":0.2},{"algo":"UCB1","round":268,"value":0.42},{"algo":"UCB1","round":274,"value":0.2},{"algo":"UCB1","round":280,"value":0.33},{"algo":"UCB1","round":286,"value":0.2},{"algo":"UCB1","round":292,"value":0.3},{"algo":"UCB1","round":298,"value":0.2},{"algo":"UCB1","round":304,"value":0.31},{"algo":"UCB1","round":310,"value":0.2},{"algo":"UCB1","round":316,"value":0.3},{"algo":"UCB1","round":322,"value":0.21},{"algo":"UCB1","round":328,"value":0.3},{"algo":"UCB1","round":334,"value":0.2},{"algo":"UCB1","round":340,"value":0.3},{"algo":"UCB1","round":346,"value":0.21},{"algo":"UCB1","round":352,"value":0.3},{"algo":"UCB1","round":358,"value":0.2},{"algo":"UCB1","round":364,"value":0.3},{"algo":"UCB1","round":370,"value":0.21},{"algo":"UCB1","round":376,"value":0.3},{"algo":"UCB1","round":382,"value":0.2},{"algo":"UCB1","round":388,"value":0.3},{"algo":"UCB1","round":394,"value":0.21},{"algo":"UCB1","round":400,"value":0.3},{"algo":"UCB1","round":406,"value":0.2},{"algo":"UCB1","round":412,"value":0.3},{"algo":"UCB1","round":418,"value":0.21},{"algo":"UCB1","round":424,"value":0.3},{"algo":"UCB1","round":430,"value":0.2},{"algo":"UCB1","round":436,"value":0.3},{"algo":"UCB1","round":442,"value":0.2},{"algo":"UCB1","round":448,"value":0.3},{"algo":"UCB1","round":454,"value":0.2},{"algo":"UCB1","round":460,"value":0.3},{"algo":"UCB1","round":466,"value":0.2},{"algo":"UCB1","round":472,"value":0.3},{"algo":"UCB1","round":478,"value":0.2},{"algo":"UCB1","round":484,"value":0.3},{"algo":"UCB1","round":490,"value":0.2},{"algo":"UCB1","round":496,"value":0.29},{"algo":"UCB1","round":502,"value":0.22},
      {"algo":"UCB1","round":515,"value":0.4},{"algo":"UCB1","round":545,"value":0.5},{"algo":"UCB1","round":580,"value":0.57},{"algo":"UCB1","round":620,"value":0.6},{"algo":"UCB1","round":700,"value":0.635},{"algo":"UCB1","round":764,"value":0.652},{"algo":"UCB1","round":850,"value":0.668},{"algo":"UCB1","round":950,"value":0.685},{"algo":"UCB1","round":970,"value":0.69},{"algo":"UCB1","round":1000,"value":0.67},{"algo":"UCB1","round":1042,"value":0.606},{"algo":"UCB1","round":1073,"value":0.55},{"algo":"UCB1","round":1104,"value":0.514},{"algo":"UCB1","round":1165,"value":0.447},{"algo":"UCB1","round":1227,"value":0.408},{"algo":"UCB1","round":1289,"value":0.387},{"algo":"UCB1","round":1315,"value":0.34},{"algo":"UCB1","round":1330,"value":0.308},{"algo":"UCB1","round":1345,"value":0.4},{"algo":"UCB1","round":1370,"value":0.52},{"algo":"UCB1","round":1395,"value":0.6},{"algo":"UCB1","round":1430,"value":0.65},{"algo":"UCB1","round":1490,"value":0.685},{"algo":"UCB1","round":1567,"value":0.706},{"algo":"UCB1","round":1660,"value":0.722},{"algo":"UCB1","round":1752,"value":0.735},{"algo":"UCB1","round":1907,"value":0.752},{"algo":"UCB1","round":1990,"value":0.756},{"algo":"UCB1","round":2030,"value":0.735},{"algo":"UCB1","round":2061,"value":0.702},{"algo":"UCB1","round":2150,"value":0.64},{"algo":"UCB1","round":2247,"value":0.58},{"algo":"UCB1","round":2340,"value":0.539},{"algo":"UCB1","round":2432,"value":0.48},{"algo":"UCB1","round":2478,"value":0.43},{"algo":"UCB1","round":2494,"value":0.387},{"algo":"UCB1","round":2510,"value":0.43},{"algo":"UCB1","round":2550,"value":0.49},{"algo":"UCB1","round":2586,"value":0.509},{"algo":"UCB1","round":2679,"value":0.543},{"algo":"UCB1","round":2780,"value":0.562},{"algo":"UCB1","round":2895,"value":0.576},{"algo":"UCB1","round":3050,"value":0.588},{"algo":"UCB1","round":3204,"value":0.597},{"algo":"UCB1","round":3350,"value":0.604},{"algo":"UCB1","round":3513,"value":0.61},{"algo":"UCB1","round":3680,"value":0.615},{"algo":"UCB1","round":3822,"value":0.618},{"algo":"UCB1","round":3977,"value":0.62},{"algo":"UCB1","round":4050,"value":0.61},{"algo":"UCB1","round":4131,"value":0.585},{"algo":"UCB1","round":4200,"value":0.56},{"algo":"UCB1","round":4273,"value":0.535},{"algo":"UCB1","round":4397,"value":0.51},{"algo":"UCB1","round":4551,"value":0.488},{"algo":"UCB1","round":4600,"value":0.46},{"algo":"UCB1","round":4615,"value":0.4},{"algo":"UCB1","round":4629,"value":0.388},{"algo":"UCB1","round":4645,"value":0.41},{"algo":"UCB1","round":4700,"value":0.435},{"algo":"UCB1","round":4760,"value":0.45},{"algo":"UCB1","round":4850,"value":0.475},{"algo":"UCB1","round":4930,"value":0.492},{"algo":"UCB1","round":5015,"value":0.51},{"algo":"UCB1","round":5169,"value":0.535},{"algo":"UCB1","round":5324,"value":0.555},{"algo":"UCB1","round":5480,"value":0.577},{"algo":"UCB1","round":5633,"value":0.597},{"algo":"UCB1","round":5800,"value":0.61},{"algo":"UCB1","round":5941,"value":0.622},{"algo":"UCB1","round":6100,"value":0.631},{"algo":"UCB1","round":6250,"value":0.639},{"algo":"UCB1","round":6400,"value":0.646},{"algo":"UCB1","round":6559,"value":0.652},{"algo":"UCB1","round":6700,"value":0.659},{"algo":"UCB1","round":6868,"value":0.666},{"algo":"UCB1","round":7020,"value":0.673},{"algo":"UCB1","round":7177,"value":0.679},{"algo":"UCB1","round":7330,"value":0.685},{"algo":"UCB1","round":7486,"value":0.691},{"algo":"UCB1","round":7640,"value":0.697},{"algo":"UCB1","round":7795,"value":0.702},{"algo":"UCB1","round":7980,"value":0.704},{"algo":"UCB1","round":8060,"value":0.692},{"algo":"UCB1","round":8165,"value":0.672},{"algo":"UCB1","round":8289,"value":0.647},{"algo":"UCB1","round":8444,"value":0.624},{"algo":"UCB1","round":8598,"value":0.601},{"algo":"UCB1","round":8768,"value":0.578},{"algo":"UCB1","round":8891,"value":0.56},{"algo":"UCB1","round":8942,"value":0.552},{"algo":"UCB1","round":9100,"value":0.531},{"algo":"UCB1","round":9289,"value":0.51},{"algo":"UCB1","round":9479,"value":0.492},{"algo":"UCB1","round":9700,"value":0.475},{"algo":"UCB1","round":9890,"value":0.458},{"algo":"UCB1","round":10000,"value":0.455},{"algo":"UCB1","round":10017,"value":0.454},{"algo":"UCB1","round":10040,"value":0.47},{"algo":"UCB1","round":10080,"value":0.488},{"algo":"UCB1","round":10175,"value":0.5},{"algo":"UCB1","round":10302,"value":0.527},{"algo":"UCB1","round":10491,"value":0.548},{"algo":"UCB1","round":10713,"value":0.569},{"algo":"UCB1","round":10870,"value":0.58},{"algo":"UCB1","round":11029,"value":0.591},{"algo":"UCB1","round":11190,"value":0.598},{"algo":"UCB1","round":11345,"value":0.604},{"algo":"UCB1","round":11500,"value":0.612},{"algo":"UCB1","round":11662,"value":0.618},{"algo":"UCB1","round":11820,"value":0.624},{"algo":"UCB1","round":11978,"value":0.629},{"algo":"UCB1","round":12140,"value":0.632},{"algo":"UCB1","round":12295,"value":0.635},{"algo":"UCB1","round":12450,"value":0.639},{"algo":"UCB1","round":12611,"value":0.644},{"algo":"UCB1","round":12800,"value":0.648},{"algo":"UCB1","round":13050,"value":0.652}
    ],
    "ucbbased": [
      {"algo":"UCB-based","round":1,"value":0.67},{"algo":"UCB-based","round":3,"value":0.18},{"algo":"UCB-based","round":6,"value":0.47},{"algo":"UCB-based","round":10,"value":0.3},{"algo":"UCB-based","round":14,"value":0.46},{"algo":"UCB-based","round":18,"value":0.29},{"algo":"UCB-based","round":22,"value":0.47},{"algo":"UCB-based","round":26,"value":0.3},{"algo":"UCB-based","round":30,"value":0.46},{"algo":"UCB-based","round":34,"value":0.29},{"algo":"UCB-based","round":38,"value":0.465},{"algo":"UCB-based","round":42,"value":0.3},{"algo":"UCB-based","round":46,"value":0.47},{"algo":"UCB-based","round":50,"value":0.29},{"algo":"UCB-based","round":55,"value":0.465},{"algo":"UCB-based","round":60,"value":0.3},{"algo":"UCB-based","round":65,"value":0.47},{"algo":"UCB-based","round":70,"value":0.29},{"algo":"UCB-based","round":75,"value":0.46},{"algo":"UCB-based","round":80,"value":0.3},{"algo":"UCB-based","round":85,"value":0.465},{"algo":"UCB-based","round":90,"value":0.29},{"algo":"UCB-based","round":95,"value":0.47},{"algo":"UCB-based","round":100,"value":0.3},{"algo":"UCB-based","round":106,"value":0.465},{"algo":"UCB-based","round":112,"value":0.29},{"algo":"UCB-based","round":118,"value":0.47},{"algo":"UCB-based","round":124,"value":0.3},{"algo":"UCB-based","round":130,"value":0.465},{"algo":"UCB-based","round":136,"value":0.29},{"algo":"UCB-based","round":142,"value":0.47},{"algo":"UCB-based","round":148,"value":0.3},{"algo":"UCB-based","round":154,"value":0.46},{"algo":"UCB-based","round":160,"value":0.29},{"algo":"UCB-based","round":166,"value":0.47},{"algo":"UCB-based","round":172,"value":0.3},{"algo":"UCB-based","round":178,"value":0.465},{"algo":"UCB-based","round":184,"value":0.29},{"algo":"UCB-based","round":190,"value":0.47},{"algo":"UCB-based","round":196,"value":0.3},{"algo":"UCB-based","round":202,"value":0.475},{"algo":"UCB-based","round":208,"value":0.29},{"algo":"UCB-based","round":214,"value":0.48},{"algo":"UCB-based","round":220,"value":0.3},{"algo":"UCB-based","round":226,"value":0.49},{"algo":"UCB-based","round":232,"value":0.29},{"algo":"UCB-based","round":238,"value":0.505},{"algo":"UCB-based","round":244,"value":0.3},{"algo":"UCB-based","round":250,"value":0.51},{"algo":"UCB-based","round":256,"value":0.29},{"algo":"UCB-based","round":262,"value":0.505},{"algo":"UCB-based","round":268,"value":0.3},{"algo":"UCB-based","round":274,"value":0.5},{"algo":"UCB-based","round":280,"value":0.29},{"algo":"UCB-based","round":286,"value":0.495},{"algo":"UCB-based","round":292,"value":0.3},{"algo":"UCB-based","round":298,"value":0.49},{"algo":"UCB-based","round":304,"value":0.29},{"algo":"UCB-based","round":310,"value":0.485},{"algo":"UCB-based","round":316,"value":0.3},{"algo":"UCB-based","round":322,"value":0.48},{"algo":"UCB-based","round":328,"value":0.29},{"algo":"UCB-based","round":334,"value":0.485},{"algo":"UCB-based","round":340,"value":0.29},{"algo":"UCB-based","round":346,"value":0.49},{"algo":"UCB-based","round":352,"value":0.3},{"algo":"UCB-based","round":358,"value":0.495},{"algo":"UCB-based","round":364,"value":0.29},{"algo":"UCB-based","round":370,"value":0.49},{"algo":"UCB-based","round":376,"value":0.3},{"algo":"UCB-based","round":382,"value":0.48},{"algo":"UCB-based","round":388,"value":0.29},{"algo":"UCB-based","round":394,"value":0.47},{"algo":"UCB-based","round":400,"value":0.3},{"algo":"UCB-based","round":406,"value":0.46},{"algo":"UCB-based","round":412,"value":0.29},{"algo":"UCB-based","round":418,"value":0.47},{"algo":"UCB-based","round":424,"value":0.3},{"algo":"UCB-based","round":430,"value":0.46},{"algo":"UCB-based","round":436,"value":0.29},{"algo":"UCB-based","round":442,"value":0.45},{"algo":"UCB-based","round":448,"value":0.3},{"algo":"UCB-based","round":454,"value":0.44},{"algo":"UCB-based","round":460,"value":0.29},{"algo":"UCB-based","round":466,"value":0.44},{"algo":"UCB-based","round":472,"value":0.3},{"algo":"UCB-based","round":478,"value":0.43},{"algo":"UCB-based","round":484,"value":0.29},{"algo":"UCB-based","round":490,"value":0.43},{"algo":"UCB-based","round":496,"value":0.29},{"algo":"UCB-based","round":502,"value":0.33},
      {"algo":"UCB-based","round":515,"value":0.45},{"algo":"UCB-based","round":545,"value":0.53},{"algo":"UCB-based","round":578,"value":0.59},{"algo":"UCB-based","round":640,"value":0.631},{"algo":"UCB-based","round":700,"value":0.645},{"algo":"UCB-based","round":764,"value":0.656},{"algo":"UCB-based","round":850,"value":0.672},{"algo":"UCB-based","round":950,"value":0.685},{"algo":"UCB-based","round":965,"value":0.69},{"algo":"UCB-based","round":1011,"value":0.664},{"algo":"UCB-based","round":1040,"value":0.6},{"algo":"UCB-based","round":1073,"value":0.543},{"algo":"UCB-based","round":1100,"value":0.49},{"algo":"UCB-based","round":1119,"value":0.44},{"algo":"UCB-based","round":1140,"value":0.37},{"algo":"UCB-based","round":1155,"value":0.43},{"algo":"UCB-based","round":1175,"value":0.49},{"algo":"UCB-based","round":1196,"value":0.534},{"algo":"UCB-based","round":1258,"value":0.606},{"algo":"UCB-based","round":1300,"value":0.64},{"algo":"UCB-based","round":1351,"value":0.664},{"algo":"UCB-based","round":1410,"value":0.69},{"algo":"UCB-based","round":1474,"value":0.714},{"algo":"UCB-based","round":1560,"value":0.73},{"algo":"UCB-based","round":1660,"value":0.742},{"algo":"UCB-based","round":1814,"value":0.752},{"algo":"UCB-based","round":1938,"value":0.762},{"algo":"UCB-based","round":1985,"value":0.764},{"algo":"UCB-based","round":2020,"value":0.75},{"algo":"UCB-based","round":2061,"value":0.718},{"algo":"UCB-based","round":2140,"value":0.67},{"algo":"UCB-based","round":2216,"value":0.631},{"algo":"UCB-based","round":2280,"value":0.6},{"algo":"UCB-based","round":2340,"value":0.572},{"algo":"UCB-based","round":2432,"value":0.522},{"algo":"UCB-based","round":2478,"value":0.476},{"algo":"UCB-based","round":2500,"value":0.49},{"algo":"UCB-based","round":2530,"value":0.52},{"algo":"UCB-based","round":2556,"value":0.539},{"algo":"UCB-based","round":2641,"value":0.562},{"algo":"UCB-based","round":2741,"value":0.58},{"algo":"UCB-based","round":2900,"value":0.595},{"algo":"UCB-based","round":3050,"value":0.606},{"algo":"UCB-based","round":3200,"value":0.612},{"algo":"UCB-based","round":3359,"value":0.618},{"algo":"UCB-based","round":3500,"value":0.622},{"algo":"UCB-based","round":3668,"value":0.627},{"algo":"UCB-based","round":3820,"value":0.629},{"algo":"UCB-based","round":3977,"value":0.631},{"algo":"UCB-based","round":4040,"value":0.625},{"algo":"UCB-based","round":4100,"value":0.606},{"algo":"UCB-based","round":4150,"value":0.597},{"algo":"UCB-based","round":4220,"value":0.57},{"algo":"UCB-based","round":4273,"value":0.551},{"algo":"UCB-based","round":4340,"value":0.53},{"algo":"UCB-based","round":4397,"value":0.514},{"algo":"UCB-based","round":4430,"value":0.52},{"algo":"UCB-based","round":4490,"value":0.535},{"algo":"UCB-based","round":4560,"value":0.553},{"algo":"UCB-based","round":4644,"value":0.572},{"algo":"UCB-based","round":4750,"value":0.594},{"algo":"UCB-based","round":4860,"value":0.614},{"algo":"UCB-based","round":4960,"value":0.63},{"algo":"UCB-based","round":5077,"value":0.643},{"algo":"UCB-based","round":5200,"value":0.654},{"algo":"UCB-based","round":5324,"value":0.664},{"algo":"UCB-based","round":5480,"value":0.676},{"algo":"UCB-based","round":5633,"value":0.687},{"algo":"UCB-based","round":5800,"value":0.695},{"algo":"UCB-based","round":5941,"value":0.702},{"algo":"UCB-based","round":6100,"value":0.708},{"algo":"UCB-based","round":6250,"value":0.714},{"algo":"UCB-based","round":6559,"value":0.723},{"algo":"UCB-based","round":6868,"value":0.73},{"algo":"UCB-based","round":7177,"value":0.737},{"algo":"UCB-based","round":7400,"value":0.741},{"algo":"UCB-based","round":7640,"value":0.746},{"algo":"UCB-based","round":7857,"value":0.75},{"algo":"UCB-based","round":7990,"value":0.748},{"algo":"UCB-based","round":8060,"value":0.735},{"algo":"UCB-based","round":8165,"value":0.714},{"algo":"UCB-based","round":8289,"value":0.689},{"algo":"UCB-based","round":8444,"value":0.664},{"algo":"UCB-based","round":8598,"value":0.639},{"algo":"UCB-based","round":8737,"value":0.616},{"algo":"UCB-based","round":8876,"value":0.593},{"algo":"UCB-based","round":8910,"value":0.59},{"algo":"UCB-based","round":9000,"value":0.581},{"algo":"UCB-based","round":9100,"value":0.569},{"algo":"UCB-based","round":9180,"value":0.545},{"algo":"UCB-based","round":9258,"value":0.518},{"algo":"UCB-based","round":9340,"value":0.53},{"algo":"UCB-based","round":9448,"value":0.543},{"algo":"UCB-based","round":9600,"value":0.557},{"algo":"UCB-based","round":9764,"value":0.569},{"algo":"UCB-based","round":9920,"value":0.583},{"algo":"UCB-based","round":10080,"value":0.595},{"algo":"UCB-based","round":10240,"value":0.604},{"algo":"UCB-based","round":10397,"value":0.612},{"algo":"UCB-based","round":10550,"value":0.619},{"algo":"UCB-based","round":10713,"value":0.625},{"algo":"UCB-based","round":10870,"value":0.63},{"algo":"UCB-based","round":11029,"value":0.635},{"algo":"UCB-based","round":11190,"value":0.64},{"algo":"UCB-based","round":11345,"value":0.644},{"algo":"UCB-based","round":11500,"value":0.647},{"algo":"UCB-based","round":11662,"value":0.65},{"algo":"UCB-based","round":11820,"value":0.653},{"algo":"UCB-based","round":11978,"value":0.655},{"algo":"UCB-based","round":12140,"value":0.657},{"algo":"UCB-based","round":12295,"value":0.659},{"algo":"UCB-based","round":12450,"value":0.661},{"algo":"UCB-based","round":12611,"value":0.663},{"algo":"UCB-based","round":12770,"value":0.665},{"algo":"UCB-based","round":12927,"value":0.668},{"algo":"UCB-based","round":13050,"value":0.67}
    ],
    "egreedy": [
      {"algo":"ε-Greedy","round":1,"value":0.0},{"algo":"ε-Greedy","round":2,"value":0.733},{"algo":"ε-Greedy","round":6,"value":0.45},{"algo":"ε-Greedy","round":12,"value":0.42},{"algo":"ε-Greedy","round":20,"value":0.38},{"algo":"ε-Greedy","round":30,"value":0.36},{"algo":"ε-Greedy","round":45,"value":0.37},{"algo":"ε-Greedy","round":60,"value":0.355},{"algo":"ε-Greedy","round":80,"value":0.35},{"algo":"ε-Greedy","round":100,"value":0.345},{"algo":"ε-Greedy","round":130,"value":0.35},{"algo":"ε-Greedy","round":160,"value":0.34},{"algo":"ε-Greedy","round":190,"value":0.345},{"algo":"ε-Greedy","round":220,"value":0.34},{"algo":"ε-Greedy","round":245,"value":0.335},{"algo":"ε-Greedy","round":252,"value":0.33},{"algo":"ε-Greedy","round":257,"value":0.01},{"algo":"ε-Greedy","round":262,"value":0.33},{"algo":"ε-Greedy","round":290,"value":0.32},{"algo":"ε-Greedy","round":330,"value":0.33},{"algo":"ε-Greedy","round":370,"value":0.34},{"algo":"ε-Greedy","round":420,"value":0.345},{"algo":"ε-Greedy","round":470,"value":0.35},{"algo":"ε-Greedy","round":520,"value":0.36},{"algo":"ε-Greedy","round":560,"value":0.37},{"algo":"ε-Greedy","round":575,"value":0.4},{"algo":"ε-Greedy","round":585,"value":0.5},{"algo":"ε-Greedy","round":595,"value":0.62},{"algo":"ε-Greedy","round":600,"value":0.66},{"algo":"ε-Greedy","round":612,"value":0.7},{"algo":"ε-Greedy","round":625,"value":0.685},{"algo":"ε-Greedy","round":638,"value":0.715},{"algo":"ε-Greedy","round":650,"value":0.69},{"algo":"ε-Greedy","round":662,"value":0.72},{"algo":"ε-Greedy","round":675,"value":0.7},{"algo":"ε-Greedy","round":688,"value":0.718},{"algo":"ε-Greedy","round":698,"value":0.72},{"algo":"ε-Greedy","round":702,"value":0.005},{"algo":"ε-Greedy","round":706,"value":0.715},{"algo":"ε-Greedy","round":718,"value":0.69},{"algo":"ε-Greedy","round":730,"value":0.718},{"algo":"ε-Greedy","round":742,"value":0.7},{"algo":"ε-Greedy","round":755,"value":0.72},{"algo":"ε-Greedy","round":768,"value":0.695},{"algo":"ε-Greedy","round":780,"value":0.715},{"algo":"ε-Greedy","round":793,"value":0.7},{"algo":"ε-Greedy","round":806,"value":0.718},{"algo":"ε-Greedy","round":818,"value":0.7},{"algo":"ε-Greedy","round":830,"value":0.715},{"algo":"ε-Greedy","round":843,"value":0.72},{"algo":"ε-Greedy","round":856,"value":0.705},{"algo":"ε-Greedy","round":868,"value":0.72},{"algo":"ε-Greedy","round":880,"value":0.7},{"algo":"ε-Greedy","round":892,"value":0.718},{"algo":"ε-Greedy","round":905,"value":0.705},{"algo":"ε-Greedy","round":918,"value":0.718},{"algo":"ε-Greedy","round":930,"value":0.7},{"algo":"ε-Greedy","round":943,"value":0.715},{"algo":"ε-Greedy","round":955,"value":0.7},{"algo":"ε-Greedy","round":968,"value":0.715},{"algo":"ε-Greedy","round":980,"value":0.705},{"algo":"ε-Greedy","round":992,"value":0.71},{"algo":"ε-Greedy","round":1005,"value":0.69},{"algo":"ε-Greedy","round":1015,"value":0.66},{"algo":"ε-Greedy","round":1027,"value":0.606},{"algo":"ε-Greedy","round":1073,"value":0.53},{"algo":"ε-Greedy","round":1119,"value":0.48},{"algo":"ε-Greedy","round":1196,"value":0.43},{"algo":"ε-Greedy","round":1258,"value":0.41},{"algo":"ε-Greedy","round":1351,"value":0.379},{"algo":"ε-Greedy","round":1430,"value":0.35},{"algo":"ε-Greedy","round":1474,"value":0.341},{"algo":"ε-Greedy","round":1520,"value":0.36},{"algo":"ε-Greedy","round":1567,"value":0.379},{"algo":"ε-Greedy","round":1629,"value":0.408},{"algo":"ε-Greedy","round":1691,"value":0.434},{"algo":"ε-Greedy","round":1783,"value":0.48},{"algo":"ε-Greedy","round":1876,"value":0.505},{"algo":"ε-Greedy","round":1969,"value":0.526},{"algo":"ε-Greedy","round":2030,"value":0.53},{"algo":"ε-Greedy","round":2092,"value":0.505},{"algo":"ε-Greedy","round":2185,"value":0.48},{"algo":"ε-Greedy","round":2278,"value":0.447},{"algo":"ε-Greedy","round":2355,"value":0.425},{"algo":"ε-Greedy","round":2368,"value":0.345},{"algo":"ε-Greedy","round":2380,"value":0.42},{"algo":"ε-Greedy","round":2432,"value":0.4},{"algo":"ε-Greedy","round":2586,"value":0.366},{"algo":"ε-Greedy","round":2741,"value":0.345},{"algo":"ε-Greedy","round":2895,"value":0.325},{"algo":"ε-Greedy","round":3050,"value":0.313},{"algo":"ε-Greedy","round":3204,"value":0.304},{"algo":"ε-Greedy","round":3360,"value":0.295},{"algo":"ε-Greedy","round":3513,"value":0.287},{"algo":"ε-Greedy","round":3670,"value":0.28},{"algo":"ε-Greedy","round":3822,"value":0.274},{"algo":"ε-Greedy","round":3977,"value":0.268},{"algo":"ε-Greedy","round":4040,"value":0.278},{"algo":"ε-Greedy","round":4100,"value":0.291},{"algo":"ε-Greedy","round":4150,"value":0.308},{"algo":"ε-Greedy","round":4273,"value":0.337},{"algo":"ε-Greedy","round":4397,"value":0.358},{"algo":"ε-Greedy","round":4551,"value":0.379},{"algo":"ε-Greedy","round":4690,"value":0.402},{"algo":"ε-Greedy","round":4829,"value":0.424},{"algo":"ε-Greedy","round":5015,"value":0.447},{"algo":"ε-Greedy","round":5170,"value":0.462},{"algo":"ε-Greedy","round":5324,"value":0.476},{"algo":"ε-Greedy","round":5480,"value":0.493},{"algo":"ε-Greedy","round":5633,"value":0.509},{"algo":"ε-Greedy","round":5800,"value":0.52},{"algo":"ε-Greedy","round":5941,"value":0.53},{"algo":"ε-Greedy","round":6100,"value":0.539},{"algo":"ε-Greedy","round":6250,"value":0.547},{"algo":"ε-Greedy","round":6400,"value":0.556},{"algo":"ε-Greedy","round":6559,"value":0.564},{"algo":"ε-Greedy","round":6700,"value":0.572},{"algo":"ε-Greedy","round":6868,"value":0.58},{"algo":"ε-Greedy","round":7020,"value":0.586},{"algo":"ε-Greedy","round":7177,"value":0.591},{"algo":"ε-Greedy","round":7330,"value":0.598},{"algo":"ε-Greedy","round":7486,"value":0.606},{"algo":"ε-Greedy","round":7640,"value":0.61},{"algo":"ε-Greedy","round":7795,"value":0.614},{"algo":"ε-Greedy","round":8011,"value":0.619},{"algo":"ε-Greedy","round":8100,"value":0.608},{"algo":"ε-Greedy","round":8197,"value":0.597},{"algo":"ε-Greedy","round":8290,"value":0.586},{"algo":"ε-Greedy","round":8382,"value":0.576},{"algo":"ε-Greedy","round":8475,"value":0.565},{"algo":"ε-Greedy","round":8567,"value":0.555},{"algo":"ε-Greedy","round":8660,"value":0.547},{"algo":"ε-Greedy","round":8752,"value":0.539},{"algo":"ε-Greedy","round":8850,"value":0.527},{"algo":"ε-Greedy","round":8942,"value":0.516},{"algo":"ε-Greedy","round":9131,"value":0.501},{"algo":"ε-Greedy","round":9353,"value":0.482},{"algo":"ε-Greedy","round":9574,"value":0.47},{"algo":"ε-Greedy","round":9764,"value":0.454},{"algo":"ε-Greedy","round":9985,"value":0.437},{"algo":"ε-Greedy","round":10207,"value":0.427},{"algo":"ε-Greedy","round":10428,"value":0.42},{"algo":"ε-Greedy","round":10650,"value":0.411},{"algo":"ε-Greedy","round":10871,"value":0.4},{"algo":"ε-Greedy","round":11092,"value":0.389},{"algo":"ε-Greedy","round":11314,"value":0.379},{"algo":"ε-Greedy","round":11551,"value":0.37},{"algo":"ε-Greedy","round":11788,"value":0.361},{"algo":"ε-Greedy","round":12010,"value":0.353},{"algo":"ε-Greedy","round":12247,"value":0.344},{"algo":"ε-Greedy","round":12484,"value":0.336},{"algo":"ε-Greedy","round":12722,"value":0.329},{"algo":"ε-Greedy","round":12943,"value":0.323},{"algo":"ε-Greedy","round":13050,"value":0.32}
    ],
    "ucbbv1": [
      {"algo":"UCB-BV1","round":1,"value":0.0},{"algo":"UCB-BV1","round":3,"value":0.58},{"algo":"UCB-BV1","round":5,"value":0.42},{"algo":"UCB-BV1","round":8,"value":0.44},{"algo":"UCB-BV1","round":12,"value":0.38},{"algo":"UCB-BV1","round":16,"value":0.43},{"algo":"UCB-BV1","round":20,"value":0.37},{"algo":"UCB-BV1","round":25,"value":0.42},{"algo":"UCB-BV1","round":30,"value":0.38},{"algo":"UCB-BV1","round":36,"value":0.41},{"algo":"UCB-BV1","round":42,"value":0.37},{"algo":"UCB-BV1","round":50,"value":0.4},{"algo":"UCB-BV1","round":58,"value":0.36},{"algo":"UCB-BV1","round":66,"value":0.39},{"algo":"UCB-BV1","round":75,"value":0.36},{"algo":"UCB-BV1","round":84,"value":0.375},{"algo":"UCB-BV1","round":92,"value":0.36},{"algo":"UCB-BV1","round":100,"value":0.37},{"algo":"UCB-BV1","round":110,"value":0.355},{"algo":"UCB-BV1","round":120,"value":0.365},{"algo":"UCB-BV1","round":130,"value":0.35},{"algo":"UCB-BV1","round":140,"value":0.37},{"algo":"UCB-BV1","round":150,"value":0.355},{"algo":"UCB-BV1","round":160,"value":0.365},{"algo":"UCB-BV1","round":170,"value":0.345},{"algo":"UCB-BV1","round":180,"value":0.36},{"algo":"UCB-BV1","round":190,"value":0.345},{"algo":"UCB-BV1","round":200,"value":0.355},{"algo":"UCB-BV1","round":210,"value":0.34},{"algo":"UCB-BV1","round":220,"value":0.355},{"algo":"UCB-BV1","round":230,"value":0.345},{"algo":"UCB-BV1","round":240,"value":0.355},{"algo":"UCB-BV1","round":250,"value":0.345},{"algo":"UCB-BV1","round":260,"value":0.358},{"algo":"UCB-BV1","round":270,"value":0.348},{"algo":"UCB-BV1","round":280,"value":0.355},{"algo":"UCB-BV1","round":290,"value":0.34},{"algo":"UCB-BV1","round":300,"value":0.35},{"algo":"UCB-BV1","round":310,"value":0.338},{"algo":"UCB-BV1","round":320,"value":0.348},{"algo":"UCB-BV1","round":330,"value":0.336},{"algo":"UCB-BV1","round":340,"value":0.348},{"algo":"UCB-BV1","round":350,"value":0.34},{"algo":"UCB-BV1","round":360,"value":0.355},{"algo":"UCB-BV1","round":370,"value":0.345},{"algo":"UCB-BV1","round":380,"value":0.358},{"algo":"UCB-BV1","round":390,"value":0.345},{"algo":"UCB-BV1","round":400,"value":0.355},{"algo":"UCB-BV1","round":410,"value":0.342},{"algo":"UCB-BV1","round":420,"value":0.352},{"algo":"UCB-BV1","round":430,"value":0.345},{"algo":"UCB-BV1","round":440,"value":0.356},{"algo":"UCB-BV1","round":450,"value":0.348},{"algo":"UCB-BV1","round":460,"value":0.356},{"algo":"UCB-BV1","round":470,"value":0.345},{"algo":"UCB-BV1","round":480,"value":0.352},{"algo":"UCB-BV1","round":490,"value":0.342},{"algo":"UCB-BV1","round":500,"value":0.35},{"algo":"UCB-BV1","round":510,"value":0.34},{"algo":"UCB-BV1","round":520,"value":0.347},{"algo":"UCB-BV1","round":540,"value":0.338},{"algo":"UCB-BV1","round":560,"value":0.343},{"algo":"UCB-BV1","round":580,"value":0.333},{"algo":"UCB-BV1","round":600,"value":0.336},{"algo":"UCB-BV1","round":620,"value":0.326},{"algo":"UCB-BV1","round":640,"value":0.328},{"algo":"UCB-BV1","round":660,"value":0.318},{"algo":"UCB-BV1","round":680,"value":0.318},{"algo":"UCB-BV1","round":700,"value":0.308},{"algo":"UCB-BV1","round":720,"value":0.307},{"algo":"UCB-BV1","round":740,"value":0.298},{"algo":"UCB-BV1","round":760,"value":0.297},{"algo":"UCB-BV1","round":780,"value":0.29},{"algo":"UCB-BV1","round":800,"value":0.29},{"algo":"UCB-BV1","round":820,"value":0.282},{"algo":"UCB-BV1","round":840,"value":0.284},{"algo":"UCB-BV1","round":860,"value":0.276},{"algo":"UCB-BV1","round":880,"value":0.28},{"algo":"UCB-BV1","round":900,"value":0.272},{"algo":"UCB-BV1","round":920,"value":0.278},{"algo":"UCB-BV1","round":940,"value":0.27},{"algo":"UCB-BV1","round":960,"value":0.278},{"algo":"UCB-BV1","round":980,"value":0.27},{"algo":"UCB-BV1","round":1000,"value":0.276},{"algo":"UCB-BV1","round":1020,"value":0.278},{"algo":"UCB-BV1","round":1050,"value":0.287},{"algo":"UCB-BV1","round":1104,"value":0.308},{"algo":"UCB-BV1","round":1196,"value":0.341},{"algo":"UCB-BV1","round":1289,"value":0.366},{"algo":"UCB-BV1","round":1382,"value":0.391},{"algo":"UCB-BV1","round":1505,"value":0.417},{"algo":"UCB-BV1","round":1567,"value":0.434},{"algo":"UCB-BV1","round":1691,"value":0.459},{"algo":"UCB-BV1","round":1814,"value":0.48},{"algo":"UCB-BV1","round":1900,"value":0.492},{"algo":"UCB-BV1","round":1969,"value":0.497},{"algo":"UCB-BV1","round":2030,"value":0.495},{"algo":"UCB-BV1","round":2123,"value":0.48},{"algo":"UCB-BV1","round":2278,"value":0.455},{"algo":"UCB-BV1","round":2401,"value":0.434},{"algo":"UCB-BV1","round":2556,"value":0.412},{"algo":"UCB-BV1","round":2741,"value":0.391},{"algo":"UCB-BV1","round":2895,"value":0.375},{"algo":"UCB-BV1","round":3080,"value":0.358},{"algo":"UCB-BV1","round":3266,"value":0.341},{"algo":"UCB-BV1","round":3482,"value":0.329},{"algo":"UCB-BV1","round":3668,"value":0.318},{"algo":"UCB-BV1","round":3884,"value":0.306},{"algo":"UCB-BV1","round":4069,"value":0.295},{"algo":"UCB-BV1","round":4273,"value":0.281},{"algo":"UCB-BV1","round":4490,"value":0.268},{"algo":"UCB-BV1","round":4706,"value":0.258},{"algo":"UCB-BV1","round":4922,"value":0.247},{"algo":"UCB-BV1","round":5138,"value":0.239},{"algo":"UCB-BV1","round":5354,"value":0.233},{"algo":"UCB-BV1","round":5602,"value":0.226},{"algo":"UCB-BV1","round":5818,"value":0.22},{"algo":"UCB-BV1","round":6065,"value":0.214},{"algo":"UCB-BV1","round":6281,"value":0.21},{"algo":"UCB-BV1","round":6528,"value":0.206},{"algo":"UCB-BV1","round":6745,"value":0.201},{"algo":"UCB-BV1","round":6992,"value":0.198},{"algo":"UCB-BV1","round":7239,"value":0.194},{"algo":"UCB-BV1","round":7470,"value":0.191},{"algo":"UCB-BV1","round":7702,"value":0.188},{"algo":"UCB-BV1","round":7934,"value":0.186},{"algo":"UCB-BV1","round":8165,"value":0.193},{"algo":"UCB-BV1","round":8382,"value":0.203},{"algo":"UCB-BV1","round":8613,"value":0.212},{"algo":"UCB-BV1","round":8845,"value":0.221},{"algo":"UCB-BV1","round":9068,"value":0.231},{"algo":"UCB-BV1","round":9289,"value":0.24},{"algo":"UCB-BV1","round":9527,"value":0.249},{"algo":"UCB-BV1","round":9764,"value":0.258},{"algo":"UCB-BV1","round":9985,"value":0.265},{"algo":"UCB-BV1","round":10222,"value":0.273},{"algo":"UCB-BV1","round":10460,"value":0.282},{"algo":"UCB-BV1","round":10681,"value":0.288},{"algo":"UCB-BV1","round":10918,"value":0.296},{"algo":"UCB-BV1","round":11156,"value":0.304},{"algo":"UCB-BV1","round":11377,"value":0.31},{"algo":"UCB-BV1","round":11614,"value":0.318},{"algo":"UCB-BV1","round":11852,"value":0.324},{"algo":"UCB-BV1","round":12089,"value":0.33},{"algo":"UCB-BV1","round":12310,"value":0.336},{"algo":"UCB-BV1","round":12547,"value":0.342},{"algo":"UCB-BV1","round":12785,"value":0.347},{"algo":"UCB-BV1","round":13050,"value":0.353}
    ],
    "oracle": [
      {"algo":"Oracle","round":1,"value":0.4545},{"algo":"Oracle","round":500,"value":0.7273},{"algo":"Oracle","round":1000,"value":0.8148},{"algo":"Oracle","round":2000,"value":0.6667},{"algo":"Oracle","round":4000,"value":0.8148},{"algo":"Oracle","round":8000,"value":0.7273},{"algo":"Oracle","round":13050,"value":0.7273}
    ]
  },
  "encoding": {
    "x": {
      "field": "round",
      "type": "quantitative",
      "scale": {"domain": [-651.45, 13702.45], "nice": false, "zero": false},
      "axis": {
        "values": [1, 500, 1000, 2000, 4000, 8000, 13050],
        "format": "d",
        "labelAngle": -45,
        "labelAlign": "right",
        "labelBaseline": "top",
        "labelFontSize": 40,
        "labelPadding": 15,
        "labelOffset": {"condition": [{"test": "datum.value == 1", "value": -3}, {"test": "datum.value == 500", "value": 9}, {"test": "datum.value == 13050", "value": 27}], "value": 18},
        "labelOverlap": false,
        "labelFlush": false,
        "labelBound": false,
        "tickSize": 5,
        "tickWidth": 1.2,
        "title": "Round",
        "titleFontSize": 61,
        "titleY": 188,
        "titleBaseline": "alphabetic"
      }
    },
    "y": {
      "field": "value",
      "type": "quantitative",
      "scale": {"domain": [-0.048, 0.898], "nice": false, "zero": false},
      "axis": {
        "values": [0, 0.2, 0.4, 0.6, 0.8],
        "format": ".1f",
        "labelFontSize": 40,
        "labelPadding": 6,
        "tickSize": 5,
        "tickWidth": 1.2,
        "title": ["Exact \\ Empirical", "Mean Reward per Mean Cost"],
        "titleFontSize": 52,
        "titleLineHeight": 60,
        "titleAngle": -90,
        "titleAlign": "center",
        "titleBaseline": "alphabetic",
        "titleX": -176,
        "titleY": 377
      }
    },
    "color": {
      "field": "algo",
      "type": "nominal",
      "scale": {
        "domain": ["BPRPC-SWUCB", "UCB-based", "UCB-BV1", "KUBE", "ε-Greedy", "Oracle", "UCB1"],
        "range": ["#008080", "#00ffff", "#ff8c00", "#0000ff", "#000000", "#ff0000", "#ff00ff"]
      },
      "legend": {
        "title": null,
        "orient": "none",
        "direction": "horizontal",
        "legendX": 81,
        "legendY": -226,
        "encode": {
          "symbols": {
            "update": {
              "strokeWidth": {"signal": "datum.value === 'BPRPC-SWUCB' ? 7 : datum.value === 'Oracle' ? 10 : 9.5"},
              "strokeDash": {"signal": "datum.value === 'Oracle' ? [1, 0] : datum.value === 'BPRPC-SWUCB' ? [7, 11.55] : [9.5, 15.7]"},
              "strokeCap": {"signal": "datum.value === 'Oracle' ? 'square' : 'butt'"}
            }
          }
        }
      }
    }
  },
  "layer": [
    {"data": {"name": "bprpc"}, "mark": {"type": "line", "strokeWidth": 7, "strokeDash": [7, 11.55], "strokeJoin": "round"}},
    {"data": {"name": "kube"}, "mark": {"type": "line", "strokeWidth": 9.5, "strokeDash": [9.5, 15.7], "strokeJoin": "round"}},
    {"data": {"name": "ucb1"}, "mark": {"type": "line", "strokeWidth": 9.5, "strokeDash": [9.5, 15.7], "strokeJoin": "round"}},
    {"data": {"name": "ucbbased"}, "mark": {"type": "line", "strokeWidth": 9.5, "strokeDash": [9.5, 15.7], "strokeJoin": "round"}},
    {"data": {"name": "egreedy"}, "mark": {"type": "line", "strokeWidth": 9.5, "strokeDash": [9.5, 15.7], "strokeJoin": "round"}},
    {"data": {"name": "ucbbv1"}, "mark": {"type": "line", "strokeWidth": 9.5, "strokeDash": [9.5, 15.7], "strokeJoin": "round"}},
    {"data": {"name": "oracle"}, "mark": {"type": "line", "interpolate": "step-after", "strokeWidth": 10, "strokeJoin": "round", "strokeCap": "square"}}
  ],
  "config": {
    "font": "DejaVu Sans",
    "view": {"stroke": "black", "strokeWidth": 1.5},
    "axis": {
      "labelFont": "DejaVu Sans",
      "titleFont": "DejaVu Sans",
      "labelColor": "black",
      "titleColor": "black",
      "tickColor": "black",
      "titleFontWeight": "normal",
      "grid": false,
      "domain": false
    },
    "legend": {
      "columns": 3,
      "gridAlign": "each",
      "labelFont": "DejaVu Sans",
      "labelFontSize": 45,
      "labelColor": "black",
      "labelLimit": 1000,
      "labelOffset": 86,
      "symbolType": "M-1.367,0H4.633",
      "symbolSize": 900,
      "symbolStrokeWidth": 9.5,
      "columnPadding": 77,
      "rowPadding": 22.5,
      "padding": 16,
      "strokeColor": "#cccccc",
      "fillColor": "white",
      "cornerRadius": 7
    }
  }
}
